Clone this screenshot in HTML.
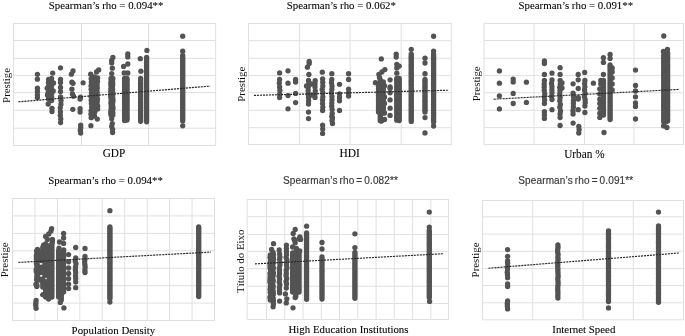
<!DOCTYPE html>
<html><head><meta charset="utf-8"><style>
html,body{margin:0;padding:0;background:#fff;}
svg{display:block;}
#w{will-change:transform;width:685px;height:336px;}
.ser{font-family:"Liberation Serif",serif;font-size:44px;fill:#000;stroke:#000;stroke-width:0.3px;}
.yl{font-family:"Liberation Serif",serif;font-size:44px;fill:#111;}
.san{font-family:"Liberation Sans",sans-serif;font-size:40px;fill:#3a3a3a;stroke:#3a3a3a;stroke-width:0.7px;letter-spacing:0.6px;word-spacing:-4px;}
</style></head><body><div id="w">
<svg width="685" height="336" viewBox="0 0 685 336" xmlns="http://www.w3.org/2000/svg">
<defs><filter id="bl" x="0" y="0" width="685" height="336" filterUnits="userSpaceOnUse"><feGaussianBlur stdDeviation="0.4"/></filter></defs>
<rect width="685" height="336" fill="#fff"/>
<g filter="url(#bl)">
<rect width="685" height="336" fill="#fff"/>
<g stroke="#e0e0e0" stroke-width="1" fill="none">
<line x1="81.5" y1="23.5" x2="81.5" y2="145.5"/>
<line x1="148.5" y1="23.5" x2="148.5" y2="145.5"/>
<line x1="13.5" y1="40.5" x2="215.6" y2="40.5"/>
<line x1="13.5" y1="58.4" x2="215.6" y2="58.4"/>
<line x1="13.5" y1="75.6" x2="215.6" y2="75.6"/>
<line x1="13.5" y1="92.5" x2="215.6" y2="92.5"/>
<line x1="13.5" y1="110.3" x2="215.6" y2="110.3"/>
<line x1="13.5" y1="128.2" x2="215.6" y2="128.2"/>
<rect x="13.5" y="23.5" width="202.1" height="122.0" fill="none"/>
<line x1="299.4" y1="23.5" x2="299.4" y2="144.5"/>
<line x1="350.1" y1="23.5" x2="350.1" y2="144.5"/>
<line x1="401.2" y1="23.5" x2="401.2" y2="144.5"/>
<line x1="248.6" y1="40.7" x2="451.2" y2="40.7"/>
<line x1="248.6" y1="58.3" x2="451.2" y2="58.3"/>
<line x1="248.6" y1="75.6" x2="451.2" y2="75.6"/>
<line x1="248.6" y1="92.6" x2="451.2" y2="92.6"/>
<line x1="248.6" y1="110.3" x2="451.2" y2="110.3"/>
<line x1="248.6" y1="127.7" x2="451.2" y2="127.7"/>
<rect x="248.6" y="23.5" width="202.6" height="121.0" fill="none"/>
<line x1="534.0" y1="23.5" x2="534.0" y2="144.5"/>
<line x1="584.6" y1="23.5" x2="584.6" y2="144.5"/>
<line x1="634.0" y1="23.5" x2="634.0" y2="144.5"/>
<line x1="484.0" y1="40.5" x2="683.5" y2="40.5"/>
<line x1="484.0" y1="58.3" x2="683.5" y2="58.3"/>
<line x1="484.0" y1="75.6" x2="683.5" y2="75.6"/>
<line x1="484.0" y1="92.7" x2="683.5" y2="92.7"/>
<line x1="484.0" y1="110.3" x2="683.5" y2="110.3"/>
<line x1="484.0" y1="127.6" x2="683.5" y2="127.6"/>
<rect x="484.0" y="23.5" width="199.5" height="121.0" fill="none"/>
<line x1="34.94" y1="198.5" x2="34.94" y2="320.5"/>
<line x1="57.39" y1="198.5" x2="57.39" y2="320.5"/>
<line x1="79.83" y1="198.5" x2="79.83" y2="320.5"/>
<line x1="102.28" y1="198.5" x2="102.28" y2="320.5"/>
<line x1="124.72" y1="198.5" x2="124.72" y2="320.5"/>
<line x1="147.17" y1="198.5" x2="147.17" y2="320.5"/>
<line x1="169.61" y1="198.5" x2="169.61" y2="320.5"/>
<line x1="192.06" y1="198.5" x2="192.06" y2="320.5"/>
<line x1="12.5" y1="215.93" x2="214.5" y2="215.93"/>
<line x1="12.5" y1="233.36" x2="214.5" y2="233.36"/>
<line x1="12.5" y1="250.79" x2="214.5" y2="250.79"/>
<line x1="12.5" y1="268.21" x2="214.5" y2="268.21"/>
<line x1="12.5" y1="285.64" x2="214.5" y2="285.64"/>
<line x1="12.5" y1="303.07" x2="214.5" y2="303.07"/>
<rect x="12.5" y="198.5" width="202.0" height="122.0" fill="none"/>
<line x1="266.5" y1="199.5" x2="266.5" y2="319.5"/>
<line x1="284.8" y1="199.5" x2="284.8" y2="319.5"/>
<line x1="303.0" y1="199.5" x2="303.0" y2="319.5"/>
<line x1="321.3" y1="199.5" x2="321.3" y2="319.5"/>
<line x1="339.5" y1="199.5" x2="339.5" y2="319.5"/>
<line x1="357.8" y1="199.5" x2="357.8" y2="319.5"/>
<line x1="376.1" y1="199.5" x2="376.1" y2="319.5"/>
<line x1="394.3" y1="199.5" x2="394.3" y2="319.5"/>
<line x1="412.6" y1="199.5" x2="412.6" y2="319.5"/>
<line x1="430.8" y1="199.5" x2="430.8" y2="319.5"/>
<line x1="247.2" y1="216.7" x2="448.5" y2="216.7"/>
<line x1="247.2" y1="234.5" x2="448.5" y2="234.5"/>
<line x1="247.2" y1="251.5" x2="448.5" y2="251.5"/>
<line x1="247.2" y1="268.6" x2="448.5" y2="268.6"/>
<line x1="247.2" y1="286.2" x2="448.5" y2="286.2"/>
<line x1="247.2" y1="303.5" x2="448.5" y2="303.5"/>
<rect x="247.2" y="199.5" width="201.3" height="120.0" fill="none"/>
<line x1="532.75" y1="200.5" x2="532.75" y2="319.8"/>
<line x1="583.0" y1="200.5" x2="583.0" y2="319.8"/>
<line x1="633.25" y1="200.5" x2="633.25" y2="319.8"/>
<line x1="482.5" y1="216.8" x2="683.5" y2="216.8"/>
<line x1="482.5" y1="234.1" x2="683.5" y2="234.1"/>
<line x1="482.5" y1="251.4" x2="683.5" y2="251.4"/>
<line x1="482.5" y1="268.5" x2="683.5" y2="268.5"/>
<line x1="482.5" y1="285.5" x2="683.5" y2="285.5"/>
<line x1="482.5" y1="302.8" x2="683.5" y2="302.8"/>
<rect x="482.5" y="200.5" width="201.0" height="119.30000000000001" fill="none"/>
</g>
<g fill="#535353">
<circle cx="37.4" cy="74.3" r="2.65"/>
<circle cx="37.4" cy="79.2" r="2.65"/>
<circle cx="37.4" cy="88.2" r="2.65"/>
<circle cx="37.4" cy="91.5" r="2.65"/>
<circle cx="37.4" cy="94.8" r="2.65"/>
<circle cx="37.4" cy="97.4" r="2.65"/>
<circle cx="52.7" cy="73.1" r="2.65"/>
<circle cx="48.60" cy="79.5" r="2.65"/>
<circle cx="48.44" cy="82.6" r="2.65"/>
<circle cx="48.74" cy="85.8" r="2.65"/>
<circle cx="48.63" cy="89.2" r="2.65"/>
<circle cx="48.20" cy="92.5" r="2.65"/>
<circle cx="48.18" cy="95.7" r="2.65"/>
<circle cx="48.60" cy="99.0" r="2.65"/>
<circle cx="51.60" cy="78.5" r="2.65"/>
<circle cx="51.21" cy="81.9" r="2.65"/>
<circle cx="51.53" cy="86.0" r="2.65"/>
<circle cx="51.26" cy="89.4" r="2.65"/>
<circle cx="51.71" cy="93.4" r="2.65"/>
<circle cx="51.67" cy="96.8" r="2.65"/>
<circle cx="51.60" cy="100.5" r="2.65"/>
<circle cx="47.2" cy="88.2" r="2.65"/>
<circle cx="53.5" cy="83" r="2.65"/>
<circle cx="47.5" cy="95" r="2.65"/>
<circle cx="53.2" cy="91" r="2.65"/>
<circle cx="48.2" cy="104" r="2.65"/>
<circle cx="52.00" cy="108.3" r="2.65"/>
<circle cx="52.00" cy="111.6" r="2.65"/>
<circle cx="60.5" cy="67.8" r="2.65"/>
<circle cx="60.5" cy="79.4" r="2.65"/>
<circle cx="60.5" cy="82.6" r="2.65"/>
<circle cx="60.5" cy="87.4" r="2.65"/>
<circle cx="60.5" cy="91.6" r="2.65"/>
<circle cx="60.60" cy="97.0" r="2.65"/>
<circle cx="61.03" cy="100.4" r="2.65"/>
<circle cx="60.92" cy="104.2" r="2.65"/>
<circle cx="60.28" cy="107.8" r="2.65"/>
<circle cx="60.43" cy="111.8" r="2.65"/>
<circle cx="60.31" cy="115.3" r="2.65"/>
<circle cx="60.73" cy="118.9" r="2.65"/>
<circle cx="60.60" cy="122.6" r="2.65"/>
<circle cx="73" cy="71" r="2.65"/>
<circle cx="71.4" cy="74.2" r="2.65"/>
<circle cx="71.9" cy="82.2" r="2.65"/>
<circle cx="73" cy="83.3" r="2.65"/>
<circle cx="71.9" cy="89.2" r="2.65"/>
<circle cx="72.4" cy="94" r="2.65"/>
<circle cx="73.5" cy="96.2" r="2.65"/>
<circle cx="72.8" cy="109.3" r="2.65"/>
<circle cx="83.1" cy="82.8" r="2.65"/>
<circle cx="80.5" cy="97.2" r="2.65"/>
<circle cx="80.1" cy="99.1" r="2.65"/>
<circle cx="80.10" cy="108.7" r="2.65"/>
<circle cx="80.10" cy="112.1" r="2.65"/>
<circle cx="80.70" cy="125.1" r="2.65"/>
<circle cx="80.74" cy="127.5" r="2.65"/>
<circle cx="80.30" cy="130.2" r="2.65"/>
<circle cx="80.70" cy="133.0" r="2.65"/>
<circle cx="98.7" cy="69.9" r="2.65"/>
<circle cx="96.5" cy="72" r="2.65"/>
<circle cx="90.7" cy="74.2" r="2.65"/>
<circle cx="91.20" cy="78.7" r="2.65"/>
<circle cx="91.36" cy="82.2" r="2.65"/>
<circle cx="91.03" cy="85.8" r="2.65"/>
<circle cx="91.16" cy="89.2" r="2.65"/>
<circle cx="91.46" cy="93.0" r="2.65"/>
<circle cx="90.97" cy="96.5" r="2.65"/>
<circle cx="91.22" cy="100.2" r="2.65"/>
<circle cx="91.41" cy="103.4" r="2.65"/>
<circle cx="91.63" cy="106.9" r="2.65"/>
<circle cx="91.13" cy="110.7" r="2.65"/>
<circle cx="90.89" cy="114.1" r="2.65"/>
<circle cx="91.20" cy="117.7" r="2.65"/>
<circle cx="94.40" cy="77.0" r="2.65"/>
<circle cx="93.99" cy="80.6" r="2.65"/>
<circle cx="94.64" cy="84.1" r="2.65"/>
<circle cx="94.74" cy="87.5" r="2.65"/>
<circle cx="94.58" cy="91.2" r="2.65"/>
<circle cx="94.47" cy="94.7" r="2.65"/>
<circle cx="94.71" cy="98.5" r="2.65"/>
<circle cx="94.38" cy="101.9" r="2.65"/>
<circle cx="94.00" cy="105.5" r="2.65"/>
<circle cx="94.53" cy="109.2" r="2.65"/>
<circle cx="94.69" cy="112.3" r="2.65"/>
<circle cx="94.40" cy="116.0" r="2.65"/>
<circle cx="97.60" cy="78.0" r="2.65"/>
<circle cx="97.50" cy="81.5" r="2.65"/>
<circle cx="97.17" cy="84.9" r="2.65"/>
<circle cx="97.30" cy="88.1" r="2.65"/>
<circle cx="97.20" cy="91.9" r="2.65"/>
<circle cx="97.27" cy="95.1" r="2.65"/>
<circle cx="97.50" cy="98.9" r="2.65"/>
<circle cx="97.22" cy="102.1" r="2.65"/>
<circle cx="97.64" cy="105.8" r="2.65"/>
<circle cx="97.60" cy="109.0" r="2.65"/>
<circle cx="97.3" cy="119.1" r="2.65"/>
<circle cx="90.9" cy="125.7" r="2.65"/>
<circle cx="112.9" cy="57.5" r="2.65"/>
<circle cx="111.7" cy="60.5" r="2.65"/>
<circle cx="111.7" cy="62.9" r="2.65"/>
<circle cx="112.3" cy="68.2" r="2.65"/>
<circle cx="111.7" cy="73.6" r="2.65"/>
<circle cx="111.00" cy="78.5" r="2.65"/>
<circle cx="111.19" cy="80.8" r="2.65"/>
<circle cx="110.87" cy="82.8" r="2.65"/>
<circle cx="110.92" cy="85.1" r="2.65"/>
<circle cx="111.27" cy="87.0" r="2.65"/>
<circle cx="110.81" cy="89.1" r="2.65"/>
<circle cx="110.84" cy="91.4" r="2.65"/>
<circle cx="111.05" cy="93.4" r="2.65"/>
<circle cx="110.70" cy="95.6" r="2.65"/>
<circle cx="110.92" cy="97.8" r="2.65"/>
<circle cx="111.27" cy="100.0" r="2.65"/>
<circle cx="111.01" cy="102.2" r="2.65"/>
<circle cx="111.11" cy="104.1" r="2.65"/>
<circle cx="111.24" cy="106.5" r="2.65"/>
<circle cx="111.22" cy="108.7" r="2.65"/>
<circle cx="110.94" cy="110.7" r="2.65"/>
<circle cx="110.76" cy="112.9" r="2.65"/>
<circle cx="111.00" cy="115.0" r="2.65"/>
<circle cx="112.80" cy="78.5" r="2.65"/>
<circle cx="112.54" cy="80.5" r="2.65"/>
<circle cx="112.63" cy="82.7" r="2.65"/>
<circle cx="112.70" cy="84.8" r="2.65"/>
<circle cx="112.50" cy="87.0" r="2.65"/>
<circle cx="112.56" cy="89.2" r="2.65"/>
<circle cx="112.52" cy="91.5" r="2.65"/>
<circle cx="112.87" cy="93.4" r="2.65"/>
<circle cx="112.65" cy="95.6" r="2.65"/>
<circle cx="112.72" cy="97.7" r="2.65"/>
<circle cx="113.01" cy="100.1" r="2.65"/>
<circle cx="112.78" cy="102.1" r="2.65"/>
<circle cx="112.55" cy="104.1" r="2.65"/>
<circle cx="112.71" cy="106.3" r="2.65"/>
<circle cx="113.00" cy="108.4" r="2.65"/>
<circle cx="112.51" cy="110.9" r="2.65"/>
<circle cx="112.82" cy="112.7" r="2.65"/>
<circle cx="112.80" cy="115.0" r="2.65"/>
<circle cx="111.7" cy="118.8" r="2.65"/>
<circle cx="111.7" cy="126.5" r="2.65"/>
<circle cx="112.3" cy="123.6" r="2.65"/>
<circle cx="112.6" cy="129.5" r="2.65"/>
<circle cx="112.6" cy="132.5" r="2.65"/>
<circle cx="127.8" cy="53.9" r="2.65"/>
<circle cx="127.8" cy="56.9" r="2.65"/>
<circle cx="127.8" cy="64" r="2.65"/>
<circle cx="123.6" cy="66.4" r="2.65"/>
<circle cx="124.2" cy="73" r="2.65"/>
<circle cx="127.8" cy="73" r="2.65"/>
<circle cx="124.60" cy="78.5" r="2.65"/>
<circle cx="124.60" cy="80.3" r="2.65"/>
<circle cx="124.60" cy="82.2" r="2.65"/>
<circle cx="124.60" cy="84.0" r="2.65"/>
<circle cx="124.60" cy="85.8" r="2.65"/>
<circle cx="124.60" cy="87.6" r="2.65"/>
<circle cx="124.60" cy="89.5" r="2.65"/>
<circle cx="124.60" cy="91.3" r="2.65"/>
<circle cx="124.60" cy="93.1" r="2.65"/>
<circle cx="124.60" cy="94.9" r="2.65"/>
<circle cx="124.60" cy="96.8" r="2.65"/>
<circle cx="124.60" cy="98.6" r="2.65"/>
<circle cx="124.60" cy="100.4" r="2.65"/>
<circle cx="124.60" cy="102.2" r="2.65"/>
<circle cx="124.60" cy="104.1" r="2.65"/>
<circle cx="124.60" cy="105.9" r="2.65"/>
<circle cx="124.60" cy="107.7" r="2.65"/>
<circle cx="124.60" cy="109.5" r="2.65"/>
<circle cx="124.60" cy="111.4" r="2.65"/>
<circle cx="124.60" cy="113.2" r="2.65"/>
<circle cx="124.60" cy="115.0" r="2.65"/>
<circle cx="124.60" cy="116.8" r="2.65"/>
<circle cx="124.60" cy="118.7" r="2.65"/>
<circle cx="124.60" cy="120.5" r="2.65"/>
<circle cx="127.00" cy="78.5" r="2.65"/>
<circle cx="127.00" cy="80.3" r="2.65"/>
<circle cx="127.00" cy="82.1" r="2.65"/>
<circle cx="127.00" cy="83.9" r="2.65"/>
<circle cx="127.00" cy="85.7" r="2.65"/>
<circle cx="127.00" cy="87.5" r="2.65"/>
<circle cx="127.00" cy="89.3" r="2.65"/>
<circle cx="127.00" cy="91.1" r="2.65"/>
<circle cx="127.00" cy="92.9" r="2.65"/>
<circle cx="127.00" cy="94.7" r="2.65"/>
<circle cx="127.00" cy="96.5" r="2.65"/>
<circle cx="127.00" cy="98.3" r="2.65"/>
<circle cx="127.00" cy="100.2" r="2.65"/>
<circle cx="127.00" cy="102.0" r="2.65"/>
<circle cx="127.00" cy="103.8" r="2.65"/>
<circle cx="127.00" cy="105.6" r="2.65"/>
<circle cx="127.00" cy="107.4" r="2.65"/>
<circle cx="127.00" cy="109.2" r="2.65"/>
<circle cx="127.00" cy="111.0" r="2.65"/>
<circle cx="127.00" cy="112.8" r="2.65"/>
<circle cx="127.00" cy="114.6" r="2.65"/>
<circle cx="127.00" cy="116.4" r="2.65"/>
<circle cx="127.00" cy="118.2" r="2.65"/>
<circle cx="127.00" cy="120.0" r="2.65"/>
<circle cx="140.3" cy="58.7" r="2.65"/>
<circle cx="140.9" cy="71.2" r="2.65"/>
<circle cx="140.60" cy="78.5" r="2.65"/>
<circle cx="140.60" cy="80.1" r="2.65"/>
<circle cx="140.60" cy="81.7" r="2.65"/>
<circle cx="140.60" cy="83.3" r="2.65"/>
<circle cx="140.60" cy="84.8" r="2.65"/>
<circle cx="140.60" cy="86.4" r="2.65"/>
<circle cx="140.60" cy="88.0" r="2.65"/>
<circle cx="140.60" cy="89.6" r="2.65"/>
<circle cx="140.60" cy="91.2" r="2.65"/>
<circle cx="140.60" cy="92.8" r="2.65"/>
<circle cx="140.60" cy="94.4" r="2.65"/>
<circle cx="140.60" cy="95.9" r="2.65"/>
<circle cx="140.60" cy="97.5" r="2.65"/>
<circle cx="140.60" cy="99.1" r="2.65"/>
<circle cx="140.60" cy="100.7" r="2.65"/>
<circle cx="140.60" cy="102.3" r="2.65"/>
<circle cx="140.60" cy="103.9" r="2.65"/>
<circle cx="140.60" cy="105.4" r="2.65"/>
<circle cx="140.60" cy="107.0" r="2.65"/>
<circle cx="140.60" cy="108.6" r="2.65"/>
<circle cx="140.60" cy="110.2" r="2.65"/>
<circle cx="140.60" cy="111.8" r="2.65"/>
<circle cx="140.60" cy="113.4" r="2.65"/>
<circle cx="140.60" cy="115.0" r="2.65"/>
<circle cx="140.60" cy="116.5" r="2.65"/>
<circle cx="140.60" cy="118.1" r="2.65"/>
<circle cx="140.60" cy="119.7" r="2.65"/>
<circle cx="140.60" cy="121.3" r="2.65"/>
<circle cx="146.9" cy="50.4" r="2.65"/>
<circle cx="146.60" cy="57.4" r="2.65"/>
<circle cx="146.60" cy="59.0" r="2.65"/>
<circle cx="146.60" cy="60.6" r="2.65"/>
<circle cx="146.60" cy="62.2" r="2.65"/>
<circle cx="146.60" cy="63.8" r="2.65"/>
<circle cx="146.60" cy="65.5" r="2.65"/>
<circle cx="146.60" cy="67.1" r="2.65"/>
<circle cx="146.60" cy="68.7" r="2.65"/>
<circle cx="146.60" cy="70.3" r="2.65"/>
<circle cx="146.60" cy="71.9" r="2.65"/>
<circle cx="146.60" cy="73.5" r="2.65"/>
<circle cx="146.60" cy="75.1" r="2.65"/>
<circle cx="146.60" cy="76.7" r="2.65"/>
<circle cx="146.60" cy="78.3" r="2.65"/>
<circle cx="146.60" cy="79.9" r="2.65"/>
<circle cx="146.60" cy="81.5" r="2.65"/>
<circle cx="146.60" cy="83.2" r="2.65"/>
<circle cx="146.60" cy="84.8" r="2.65"/>
<circle cx="146.60" cy="86.4" r="2.65"/>
<circle cx="146.60" cy="88.0" r="2.65"/>
<circle cx="146.60" cy="89.6" r="2.65"/>
<circle cx="146.60" cy="91.2" r="2.65"/>
<circle cx="146.60" cy="92.8" r="2.65"/>
<circle cx="146.60" cy="94.4" r="2.65"/>
<circle cx="146.60" cy="96.0" r="2.65"/>
<circle cx="146.60" cy="97.7" r="2.65"/>
<circle cx="146.60" cy="99.3" r="2.65"/>
<circle cx="146.60" cy="100.9" r="2.65"/>
<circle cx="146.60" cy="102.5" r="2.65"/>
<circle cx="146.60" cy="104.1" r="2.65"/>
<circle cx="146.60" cy="105.7" r="2.65"/>
<circle cx="146.60" cy="107.3" r="2.65"/>
<circle cx="146.60" cy="108.9" r="2.65"/>
<circle cx="146.60" cy="110.5" r="2.65"/>
<circle cx="146.60" cy="112.1" r="2.65"/>
<circle cx="146.60" cy="113.8" r="2.65"/>
<circle cx="146.60" cy="115.4" r="2.65"/>
<circle cx="146.60" cy="117.0" r="2.65"/>
<circle cx="146.60" cy="118.6" r="2.65"/>
<circle cx="146.60" cy="120.2" r="2.65"/>
<circle cx="146.60" cy="121.8" r="2.65"/>
<circle cx="182.7" cy="36.2" r="2.65"/>
<circle cx="182.7" cy="51.25" r="2.65"/>
<circle cx="182.70" cy="55.4" r="2.65"/>
<circle cx="182.70" cy="57.0" r="2.65"/>
<circle cx="182.70" cy="58.6" r="2.65"/>
<circle cx="182.70" cy="60.2" r="2.65"/>
<circle cx="182.70" cy="61.8" r="2.65"/>
<circle cx="182.70" cy="63.4" r="2.65"/>
<circle cx="182.70" cy="65.0" r="2.65"/>
<circle cx="182.70" cy="66.6" r="2.65"/>
<circle cx="182.70" cy="68.2" r="2.65"/>
<circle cx="182.70" cy="69.8" r="2.65"/>
<circle cx="182.70" cy="71.4" r="2.65"/>
<circle cx="182.70" cy="73.0" r="2.65"/>
<circle cx="182.70" cy="74.6" r="2.65"/>
<circle cx="182.70" cy="76.2" r="2.65"/>
<circle cx="182.70" cy="77.8" r="2.65"/>
<circle cx="182.70" cy="79.4" r="2.65"/>
<circle cx="182.70" cy="81.0" r="2.65"/>
<circle cx="182.70" cy="82.6" r="2.65"/>
<circle cx="182.70" cy="84.2" r="2.65"/>
<circle cx="182.70" cy="85.8" r="2.65"/>
<circle cx="182.70" cy="87.4" r="2.65"/>
<circle cx="182.70" cy="89.0" r="2.65"/>
<circle cx="182.70" cy="90.6" r="2.65"/>
<circle cx="182.70" cy="92.2" r="2.65"/>
<circle cx="182.70" cy="93.8" r="2.65"/>
<circle cx="182.70" cy="95.4" r="2.65"/>
<circle cx="182.70" cy="97.0" r="2.65"/>
<circle cx="182.70" cy="98.6" r="2.65"/>
<circle cx="182.70" cy="100.2" r="2.65"/>
<circle cx="182.70" cy="101.8" r="2.65"/>
<circle cx="182.70" cy="103.4" r="2.65"/>
<circle cx="182.70" cy="105.0" r="2.65"/>
<circle cx="182.70" cy="106.6" r="2.65"/>
<circle cx="182.70" cy="108.2" r="2.65"/>
<circle cx="182.70" cy="109.8" r="2.65"/>
<circle cx="182.70" cy="111.4" r="2.65"/>
<circle cx="182.70" cy="113.0" r="2.65"/>
<circle cx="182.70" cy="114.6" r="2.65"/>
<circle cx="182.70" cy="116.2" r="2.65"/>
<circle cx="182.70" cy="117.8" r="2.65"/>
<circle cx="182.70" cy="119.4" r="2.65"/>
<circle cx="182.70" cy="121.0" r="2.65"/>
<circle cx="182.7" cy="125.8" r="2.65"/>
<circle cx="279.6" cy="72.9" r="2.65"/>
<circle cx="279.60" cy="79.5" r="2.65"/>
<circle cx="279.28" cy="83.1" r="2.65"/>
<circle cx="279.60" cy="86.9" r="2.65"/>
<circle cx="279.87" cy="90.5" r="2.65"/>
<circle cx="279.68" cy="94.1" r="2.65"/>
<circle cx="279.60" cy="97.5" r="2.65"/>
<circle cx="288" cy="70.8" r="2.65"/>
<circle cx="288" cy="83.2" r="2.65"/>
<circle cx="288" cy="95.6" r="2.65"/>
<circle cx="288" cy="108.8" r="2.65"/>
<circle cx="295.60" cy="79.5" r="2.65"/>
<circle cx="295.60" cy="82.0" r="2.65"/>
<circle cx="295.6" cy="93.4" r="2.65"/>
<circle cx="295.6" cy="102.6" r="2.65"/>
<circle cx="309.2" cy="61.5" r="2.65"/>
<circle cx="309.2" cy="63.5" r="2.65"/>
<circle cx="307.4" cy="67.2" r="2.65"/>
<circle cx="308.9" cy="74.5" r="2.65"/>
<circle cx="308.50" cy="80.5" r="2.65"/>
<circle cx="308.66" cy="84.0" r="2.65"/>
<circle cx="308.26" cy="87.0" r="2.65"/>
<circle cx="308.17" cy="90.5" r="2.65"/>
<circle cx="308.14" cy="94.1" r="2.65"/>
<circle cx="308.55" cy="97.4" r="2.65"/>
<circle cx="308.61" cy="100.7" r="2.65"/>
<circle cx="308.50" cy="104.0" r="2.65"/>
<circle cx="306.5" cy="86" r="2.65"/>
<circle cx="311.3" cy="84" r="2.65"/>
<circle cx="311.3" cy="95" r="2.65"/>
<circle cx="308.5" cy="112.1" r="2.65"/>
<circle cx="308.5" cy="118.6" r="2.65"/>
<circle cx="315.2" cy="80.7" r="2.65"/>
<circle cx="315.00" cy="84.0" r="2.65"/>
<circle cx="314.99" cy="87.1" r="2.65"/>
<circle cx="315.27" cy="90.8" r="2.65"/>
<circle cx="315.00" cy="94.1" r="2.65"/>
<circle cx="315.00" cy="97.4" r="2.65"/>
<circle cx="322.3" cy="72.2" r="2.65"/>
<circle cx="322.60" cy="79.0" r="2.65"/>
<circle cx="322.74" cy="82.3" r="2.65"/>
<circle cx="322.81" cy="85.9" r="2.65"/>
<circle cx="322.22" cy="89.4" r="2.65"/>
<circle cx="322.81" cy="92.8" r="2.65"/>
<circle cx="322.82" cy="96.8" r="2.65"/>
<circle cx="322.59" cy="99.9" r="2.65"/>
<circle cx="322.58" cy="103.6" r="2.65"/>
<circle cx="322.84" cy="107.1" r="2.65"/>
<circle cx="322.60" cy="110.5" r="2.65"/>
<circle cx="322.60" cy="125.2" r="2.65"/>
<circle cx="322.73" cy="129.1" r="2.65"/>
<circle cx="322.60" cy="133.4" r="2.65"/>
<circle cx="331.8" cy="73.7" r="2.65"/>
<circle cx="331.80" cy="79.5" r="2.65"/>
<circle cx="331.48" cy="82.7" r="2.65"/>
<circle cx="332.02" cy="86.1" r="2.65"/>
<circle cx="331.86" cy="89.3" r="2.65"/>
<circle cx="331.40" cy="92.8" r="2.65"/>
<circle cx="331.95" cy="96.4" r="2.65"/>
<circle cx="331.96" cy="99.6" r="2.65"/>
<circle cx="331.81" cy="103.0" r="2.65"/>
<circle cx="331.77" cy="106.2" r="2.65"/>
<circle cx="332.15" cy="109.6" r="2.65"/>
<circle cx="332.23" cy="113.4" r="2.65"/>
<circle cx="331.80" cy="116.5" r="2.65"/>
<circle cx="332.50" cy="118.0" r="2.65"/>
<circle cx="332.07" cy="120.7" r="2.65"/>
<circle cx="332.50" cy="123.5" r="2.65"/>
<circle cx="339.5" cy="84.3" r="2.65"/>
<circle cx="339.5" cy="94" r="2.65"/>
<circle cx="339.5" cy="97.5" r="2.65"/>
<circle cx="339.5" cy="100.8" r="2.65"/>
<circle cx="339.5" cy="110.5" r="2.65"/>
<circle cx="348.6" cy="73.7" r="2.65"/>
<circle cx="348.6" cy="79.5" r="2.65"/>
<circle cx="348.6" cy="89.2" r="2.65"/>
<circle cx="348.6" cy="93" r="2.65"/>
<circle cx="348.6" cy="96" r="2.65"/>
<circle cx="381.3" cy="58.9" r="2.65"/>
<circle cx="384.9" cy="69.6" r="2.65"/>
<circle cx="381.9" cy="72" r="2.65"/>
<circle cx="378.9" cy="74.4" r="2.65"/>
<circle cx="379.5" cy="77.4" r="2.65"/>
<circle cx="375.4" cy="82.7" r="2.65"/>
<circle cx="380.30" cy="80.0" r="2.65"/>
<circle cx="380.30" cy="81.8" r="2.65"/>
<circle cx="380.30" cy="83.5" r="2.65"/>
<circle cx="380.30" cy="85.3" r="2.65"/>
<circle cx="380.30" cy="87.1" r="2.65"/>
<circle cx="380.30" cy="88.9" r="2.65"/>
<circle cx="380.30" cy="90.6" r="2.65"/>
<circle cx="380.30" cy="92.4" r="2.65"/>
<circle cx="380.30" cy="94.2" r="2.65"/>
<circle cx="380.30" cy="96.0" r="2.65"/>
<circle cx="380.30" cy="97.7" r="2.65"/>
<circle cx="380.30" cy="99.5" r="2.65"/>
<circle cx="380.30" cy="101.3" r="2.65"/>
<circle cx="380.30" cy="103.1" r="2.65"/>
<circle cx="380.30" cy="104.8" r="2.65"/>
<circle cx="380.30" cy="106.6" r="2.65"/>
<circle cx="380.30" cy="108.4" r="2.65"/>
<circle cx="380.30" cy="110.2" r="2.65"/>
<circle cx="380.30" cy="111.9" r="2.65"/>
<circle cx="380.30" cy="113.7" r="2.65"/>
<circle cx="380.30" cy="115.5" r="2.65"/>
<circle cx="380.30" cy="117.3" r="2.65"/>
<circle cx="380.30" cy="119.0" r="2.65"/>
<circle cx="380.30" cy="120.8" r="2.65"/>
<circle cx="383.30" cy="82.0" r="2.65"/>
<circle cx="383.30" cy="84.2" r="2.65"/>
<circle cx="383.30" cy="86.4" r="2.65"/>
<circle cx="383.30" cy="88.6" r="2.65"/>
<circle cx="383.30" cy="90.9" r="2.65"/>
<circle cx="383.30" cy="93.1" r="2.65"/>
<circle cx="383.30" cy="95.3" r="2.65"/>
<circle cx="383.30" cy="97.5" r="2.65"/>
<circle cx="383.30" cy="99.7" r="2.65"/>
<circle cx="383.30" cy="101.9" r="2.65"/>
<circle cx="383.30" cy="104.1" r="2.65"/>
<circle cx="383.30" cy="106.4" r="2.65"/>
<circle cx="383.30" cy="108.6" r="2.65"/>
<circle cx="383.30" cy="110.8" r="2.65"/>
<circle cx="383.30" cy="113.0" r="2.65"/>
<circle cx="378.50" cy="84.0" r="2.65"/>
<circle cx="378.50" cy="86.3" r="2.65"/>
<circle cx="378.50" cy="88.7" r="2.65"/>
<circle cx="378.50" cy="91.0" r="2.65"/>
<circle cx="378.50" cy="93.3" r="2.65"/>
<circle cx="378.50" cy="95.7" r="2.65"/>
<circle cx="378.50" cy="98.0" r="2.65"/>
<circle cx="378.50" cy="100.3" r="2.65"/>
<circle cx="378.50" cy="102.7" r="2.65"/>
<circle cx="378.50" cy="105.0" r="2.65"/>
<circle cx="378.50" cy="107.3" r="2.65"/>
<circle cx="378.50" cy="109.7" r="2.65"/>
<circle cx="378.50" cy="112.0" r="2.65"/>
<circle cx="384.5" cy="85.7" r="2.65"/>
<circle cx="384.5" cy="97" r="2.65"/>
<circle cx="384.5" cy="103.5" r="2.65"/>
<circle cx="384.5" cy="113" r="2.65"/>
<circle cx="384.5" cy="119.5" r="2.65"/>
<circle cx="381.5" cy="121" r="2.65"/>
<circle cx="390.1" cy="79.8" r="2.65"/>
<circle cx="390.1" cy="86.9" r="2.65"/>
<circle cx="390.1" cy="88.6" r="2.65"/>
<circle cx="390.1" cy="92.8" r="2.65"/>
<circle cx="390.1" cy="99.9" r="2.65"/>
<circle cx="390.1" cy="108.2" r="2.65"/>
<circle cx="390.1" cy="115.4" r="2.65"/>
<circle cx="396.2" cy="54.2" r="2.65"/>
<circle cx="396.2" cy="57.1" r="2.65"/>
<circle cx="396.8" cy="64.3" r="2.65"/>
<circle cx="396.8" cy="67.9" r="2.65"/>
<circle cx="396.8" cy="73.2" r="2.65"/>
<circle cx="399.2" cy="66.1" r="2.65"/>
<circle cx="396.80" cy="78.3" r="2.65"/>
<circle cx="396.80" cy="80.1" r="2.65"/>
<circle cx="396.80" cy="81.9" r="2.65"/>
<circle cx="396.80" cy="83.8" r="2.65"/>
<circle cx="396.80" cy="85.6" r="2.65"/>
<circle cx="396.80" cy="87.4" r="2.65"/>
<circle cx="396.80" cy="89.2" r="2.65"/>
<circle cx="396.80" cy="91.1" r="2.65"/>
<circle cx="396.80" cy="92.9" r="2.65"/>
<circle cx="396.80" cy="94.7" r="2.65"/>
<circle cx="396.80" cy="96.5" r="2.65"/>
<circle cx="396.80" cy="98.3" r="2.65"/>
<circle cx="396.80" cy="100.2" r="2.65"/>
<circle cx="396.80" cy="102.0" r="2.65"/>
<circle cx="396.80" cy="103.8" r="2.65"/>
<circle cx="396.80" cy="105.6" r="2.65"/>
<circle cx="396.80" cy="107.4" r="2.65"/>
<circle cx="396.80" cy="109.3" r="2.65"/>
<circle cx="396.80" cy="111.1" r="2.65"/>
<circle cx="396.80" cy="112.9" r="2.65"/>
<circle cx="396.80" cy="114.7" r="2.65"/>
<circle cx="396.80" cy="116.6" r="2.65"/>
<circle cx="396.80" cy="118.4" r="2.65"/>
<circle cx="396.80" cy="120.2" r="2.65"/>
<circle cx="399.20" cy="78.3" r="2.65"/>
<circle cx="399.20" cy="80.1" r="2.65"/>
<circle cx="399.20" cy="82.0" r="2.65"/>
<circle cx="399.20" cy="83.8" r="2.65"/>
<circle cx="399.20" cy="85.6" r="2.65"/>
<circle cx="399.20" cy="87.5" r="2.65"/>
<circle cx="399.20" cy="89.3" r="2.65"/>
<circle cx="399.20" cy="91.1" r="2.65"/>
<circle cx="399.20" cy="93.0" r="2.65"/>
<circle cx="399.20" cy="94.8" r="2.65"/>
<circle cx="399.20" cy="96.6" r="2.65"/>
<circle cx="399.20" cy="98.5" r="2.65"/>
<circle cx="399.20" cy="100.3" r="2.65"/>
<circle cx="399.20" cy="102.2" r="2.65"/>
<circle cx="399.20" cy="104.0" r="2.65"/>
<circle cx="399.20" cy="105.8" r="2.65"/>
<circle cx="399.20" cy="107.7" r="2.65"/>
<circle cx="399.20" cy="109.5" r="2.65"/>
<circle cx="399.20" cy="111.3" r="2.65"/>
<circle cx="399.20" cy="113.2" r="2.65"/>
<circle cx="399.20" cy="115.0" r="2.65"/>
<circle cx="399.20" cy="116.8" r="2.65"/>
<circle cx="399.20" cy="118.7" r="2.65"/>
<circle cx="399.20" cy="120.5" r="2.65"/>
<circle cx="411.25" cy="49.3" r="2.65"/>
<circle cx="411.25" cy="54.1" r="2.65"/>
<circle cx="411.25" cy="55.7" r="2.65"/>
<circle cx="411.25" cy="57.3" r="2.65"/>
<circle cx="411.25" cy="58.9" r="2.65"/>
<circle cx="411.25" cy="60.5" r="2.65"/>
<circle cx="411.25" cy="62.1" r="2.65"/>
<circle cx="411.25" cy="63.7" r="2.65"/>
<circle cx="411.25" cy="65.3" r="2.65"/>
<circle cx="411.25" cy="66.9" r="2.65"/>
<circle cx="411.25" cy="68.5" r="2.65"/>
<circle cx="411.25" cy="70.1" r="2.65"/>
<circle cx="411.25" cy="71.7" r="2.65"/>
<circle cx="411.25" cy="73.3" r="2.65"/>
<circle cx="411.25" cy="74.9" r="2.65"/>
<circle cx="411.25" cy="76.5" r="2.65"/>
<circle cx="411.25" cy="78.1" r="2.65"/>
<circle cx="411.25" cy="79.7" r="2.65"/>
<circle cx="411.25" cy="81.3" r="2.65"/>
<circle cx="411.25" cy="82.9" r="2.65"/>
<circle cx="411.25" cy="84.5" r="2.65"/>
<circle cx="411.25" cy="86.1" r="2.65"/>
<circle cx="411.25" cy="87.8" r="2.65"/>
<circle cx="411.25" cy="89.4" r="2.65"/>
<circle cx="411.25" cy="91.0" r="2.65"/>
<circle cx="411.25" cy="92.6" r="2.65"/>
<circle cx="411.25" cy="94.2" r="2.65"/>
<circle cx="411.25" cy="95.8" r="2.65"/>
<circle cx="411.25" cy="97.4" r="2.65"/>
<circle cx="411.25" cy="99.0" r="2.65"/>
<circle cx="411.25" cy="100.6" r="2.65"/>
<circle cx="411.25" cy="102.2" r="2.65"/>
<circle cx="411.25" cy="103.8" r="2.65"/>
<circle cx="411.25" cy="105.4" r="2.65"/>
<circle cx="411.25" cy="107.0" r="2.65"/>
<circle cx="411.25" cy="108.6" r="2.65"/>
<circle cx="411.25" cy="110.2" r="2.65"/>
<circle cx="411.25" cy="111.8" r="2.65"/>
<circle cx="411.25" cy="113.4" r="2.65"/>
<circle cx="411.25" cy="115.0" r="2.65"/>
<circle cx="411.25" cy="116.6" r="2.65"/>
<circle cx="411.25" cy="118.2" r="2.65"/>
<circle cx="411.25" cy="119.8" r="2.65"/>
<circle cx="411.25" cy="121.4" r="2.65"/>
<circle cx="425" cy="58.2" r="2.65"/>
<circle cx="425" cy="63" r="2.65"/>
<circle cx="425" cy="73.75" r="2.65"/>
<circle cx="425.00" cy="79.5" r="2.65"/>
<circle cx="425.00" cy="81.3" r="2.65"/>
<circle cx="425.00" cy="83.1" r="2.65"/>
<circle cx="425.00" cy="84.9" r="2.65"/>
<circle cx="425.00" cy="86.7" r="2.65"/>
<circle cx="425.00" cy="88.5" r="2.65"/>
<circle cx="425.00" cy="90.3" r="2.65"/>
<circle cx="425.00" cy="92.1" r="2.65"/>
<circle cx="425.00" cy="93.9" r="2.65"/>
<circle cx="425.00" cy="95.8" r="2.65"/>
<circle cx="425.00" cy="97.6" r="2.65"/>
<circle cx="425.00" cy="99.4" r="2.65"/>
<circle cx="425.00" cy="101.2" r="2.65"/>
<circle cx="425.00" cy="103.0" r="2.65"/>
<circle cx="425.00" cy="104.8" r="2.65"/>
<circle cx="425.00" cy="106.6" r="2.65"/>
<circle cx="425.00" cy="108.4" r="2.65"/>
<circle cx="425.00" cy="110.2" r="2.65"/>
<circle cx="425.00" cy="112.0" r="2.65"/>
<circle cx="425" cy="117.6" r="2.65"/>
<circle cx="425" cy="132.9" r="2.65"/>
<circle cx="433.6" cy="36.25" r="2.65"/>
<circle cx="433.6" cy="51.1" r="2.65"/>
<circle cx="433.60" cy="54.1" r="2.65"/>
<circle cx="433.60" cy="55.7" r="2.65"/>
<circle cx="433.60" cy="57.3" r="2.65"/>
<circle cx="433.60" cy="59.0" r="2.65"/>
<circle cx="433.60" cy="60.6" r="2.65"/>
<circle cx="433.60" cy="62.2" r="2.65"/>
<circle cx="433.60" cy="63.8" r="2.65"/>
<circle cx="433.60" cy="65.4" r="2.65"/>
<circle cx="433.60" cy="67.0" r="2.65"/>
<circle cx="433.60" cy="68.7" r="2.65"/>
<circle cx="433.60" cy="70.3" r="2.65"/>
<circle cx="433.60" cy="71.9" r="2.65"/>
<circle cx="433.60" cy="73.5" r="2.65"/>
<circle cx="433.60" cy="75.1" r="2.65"/>
<circle cx="433.60" cy="76.7" r="2.65"/>
<circle cx="433.60" cy="78.4" r="2.65"/>
<circle cx="433.60" cy="80.0" r="2.65"/>
<circle cx="433.60" cy="81.6" r="2.65"/>
<circle cx="433.60" cy="83.2" r="2.65"/>
<circle cx="433.60" cy="84.8" r="2.65"/>
<circle cx="433.60" cy="86.4" r="2.65"/>
<circle cx="433.60" cy="88.1" r="2.65"/>
<circle cx="433.60" cy="89.7" r="2.65"/>
<circle cx="433.60" cy="91.3" r="2.65"/>
<circle cx="433.60" cy="92.9" r="2.65"/>
<circle cx="433.60" cy="94.5" r="2.65"/>
<circle cx="433.60" cy="96.1" r="2.65"/>
<circle cx="433.60" cy="97.8" r="2.65"/>
<circle cx="433.60" cy="99.4" r="2.65"/>
<circle cx="433.60" cy="101.0" r="2.65"/>
<circle cx="433.60" cy="102.6" r="2.65"/>
<circle cx="433.60" cy="104.2" r="2.65"/>
<circle cx="433.60" cy="105.8" r="2.65"/>
<circle cx="433.60" cy="107.5" r="2.65"/>
<circle cx="433.60" cy="109.1" r="2.65"/>
<circle cx="433.60" cy="110.7" r="2.65"/>
<circle cx="433.60" cy="112.3" r="2.65"/>
<circle cx="433.60" cy="113.9" r="2.65"/>
<circle cx="433.60" cy="115.5" r="2.65"/>
<circle cx="433.60" cy="117.2" r="2.65"/>
<circle cx="433.60" cy="118.8" r="2.65"/>
<circle cx="433.60" cy="120.4" r="2.65"/>
<circle cx="433.60" cy="122.0" r="2.65"/>
<circle cx="433.6" cy="126" r="2.65"/>
<circle cx="499.4" cy="70.9" r="2.65"/>
<circle cx="499.4" cy="83.2" r="2.65"/>
<circle cx="499.4" cy="95.8" r="2.65"/>
<circle cx="499.4" cy="108.9" r="2.65"/>
<circle cx="513.20" cy="79.1" r="2.65"/>
<circle cx="513.20" cy="81.9" r="2.65"/>
<circle cx="513.2" cy="93.4" r="2.65"/>
<circle cx="513.2" cy="103.5" r="2.65"/>
<circle cx="526.4" cy="82.2" r="2.65"/>
<circle cx="526.4" cy="102.4" r="2.65"/>
<circle cx="544.4" cy="61" r="2.65"/>
<circle cx="544.4" cy="63.5" r="2.65"/>
<circle cx="544.4" cy="74.4" r="2.65"/>
<circle cx="544.40" cy="80.5" r="2.65"/>
<circle cx="544.23" cy="84.0" r="2.65"/>
<circle cx="544.23" cy="87.1" r="2.65"/>
<circle cx="544.27" cy="90.3" r="2.65"/>
<circle cx="544.73" cy="93.9" r="2.65"/>
<circle cx="544.28" cy="96.8" r="2.65"/>
<circle cx="544.61" cy="100.1" r="2.65"/>
<circle cx="544.40" cy="103.5" r="2.65"/>
<circle cx="544.4" cy="111.7" r="2.65"/>
<circle cx="544.4" cy="115" r="2.65"/>
<circle cx="544.4" cy="118.4" r="2.65"/>
<circle cx="552" cy="73.1" r="2.65"/>
<circle cx="552.00" cy="80.0" r="2.65"/>
<circle cx="551.56" cy="83.5" r="2.65"/>
<circle cx="551.93" cy="86.7" r="2.65"/>
<circle cx="551.92" cy="90.0" r="2.65"/>
<circle cx="551.96" cy="92.8" r="2.65"/>
<circle cx="551.56" cy="96.3" r="2.65"/>
<circle cx="552.00" cy="99.5" r="2.65"/>
<circle cx="552" cy="109.7" r="2.65"/>
<circle cx="560.1" cy="67.7" r="2.65"/>
<circle cx="560.1" cy="74.4" r="2.65"/>
<circle cx="560.10" cy="80.5" r="2.65"/>
<circle cx="560.23" cy="84.1" r="2.65"/>
<circle cx="559.73" cy="87.3" r="2.65"/>
<circle cx="559.98" cy="90.6" r="2.65"/>
<circle cx="559.78" cy="93.8" r="2.65"/>
<circle cx="560.12" cy="97.5" r="2.65"/>
<circle cx="559.75" cy="100.7" r="2.65"/>
<circle cx="560.37" cy="104.3" r="2.65"/>
<circle cx="559.83" cy="107.2" r="2.65"/>
<circle cx="560.50" cy="111.0" r="2.65"/>
<circle cx="560.08" cy="113.9" r="2.65"/>
<circle cx="560.10" cy="117.5" r="2.65"/>
<circle cx="562" cy="83" r="2.65"/>
<circle cx="562" cy="88" r="2.65"/>
<circle cx="560.1" cy="125.5" r="2.65"/>
<circle cx="573.1" cy="83.8" r="2.65"/>
<circle cx="573.10" cy="93.2" r="2.65"/>
<circle cx="573.48" cy="96.6" r="2.65"/>
<circle cx="573.46" cy="100.2" r="2.65"/>
<circle cx="573.39" cy="103.4" r="2.65"/>
<circle cx="573.36" cy="106.9" r="2.65"/>
<circle cx="573.01" cy="110.7" r="2.65"/>
<circle cx="573.10" cy="114.0" r="2.65"/>
<circle cx="573.1" cy="123.1" r="2.65"/>
<circle cx="578.2" cy="74.4" r="2.65"/>
<circle cx="578.2" cy="79.8" r="2.65"/>
<circle cx="578.2" cy="88.5" r="2.65"/>
<circle cx="578.2" cy="97.7" r="2.65"/>
<circle cx="578.2" cy="99" r="2.65"/>
<circle cx="578.2" cy="109.7" r="2.65"/>
<circle cx="578.80" cy="126.5" r="2.65"/>
<circle cx="579.10" cy="129.6" r="2.65"/>
<circle cx="578.80" cy="133.0" r="2.65"/>
<circle cx="584.7" cy="72.4" r="2.65"/>
<circle cx="584.90" cy="80.5" r="2.65"/>
<circle cx="584.65" cy="83.6" r="2.65"/>
<circle cx="584.92" cy="86.8" r="2.65"/>
<circle cx="584.56" cy="89.9" r="2.65"/>
<circle cx="585.10" cy="93.5" r="2.65"/>
<circle cx="584.49" cy="96.5" r="2.65"/>
<circle cx="585.13" cy="99.4" r="2.65"/>
<circle cx="585.20" cy="102.6" r="2.65"/>
<circle cx="584.90" cy="106.0" r="2.65"/>
<circle cx="584.9" cy="112.5" r="2.65"/>
<circle cx="593.4" cy="83.2" r="2.65"/>
<circle cx="603.4" cy="57.7" r="2.65"/>
<circle cx="603.4" cy="62.4" r="2.65"/>
<circle cx="603.4" cy="74.5" r="2.65"/>
<circle cx="600.8" cy="80.5" r="2.65"/>
<circle cx="603.50" cy="80.5" r="2.65"/>
<circle cx="603.50" cy="82.3" r="2.65"/>
<circle cx="603.50" cy="84.1" r="2.65"/>
<circle cx="603.50" cy="85.9" r="2.65"/>
<circle cx="603.50" cy="87.8" r="2.65"/>
<circle cx="603.50" cy="89.6" r="2.65"/>
<circle cx="603.50" cy="91.4" r="2.65"/>
<circle cx="603.50" cy="93.2" r="2.65"/>
<circle cx="603.50" cy="95.0" r="2.65"/>
<circle cx="603.50" cy="96.8" r="2.65"/>
<circle cx="603.50" cy="98.7" r="2.65"/>
<circle cx="603.50" cy="100.5" r="2.65"/>
<circle cx="603.50" cy="102.3" r="2.65"/>
<circle cx="603.50" cy="104.1" r="2.65"/>
<circle cx="603.50" cy="105.9" r="2.65"/>
<circle cx="603.50" cy="107.7" r="2.65"/>
<circle cx="603.50" cy="109.6" r="2.65"/>
<circle cx="603.50" cy="111.4" r="2.65"/>
<circle cx="603.50" cy="113.2" r="2.65"/>
<circle cx="603.50" cy="115.0" r="2.65"/>
<circle cx="600.8" cy="84" r="2.65"/>
<circle cx="599.8" cy="89" r="2.65"/>
<circle cx="599.8" cy="94" r="2.65"/>
<circle cx="599.8" cy="99.2" r="2.65"/>
<circle cx="599.8" cy="103.4" r="2.65"/>
<circle cx="599.8" cy="108.3" r="2.65"/>
<circle cx="599.8" cy="113.2" r="2.65"/>
<circle cx="599.8" cy="117.4" r="2.65"/>
<circle cx="604" cy="132.5" r="2.65"/>
<circle cx="610.1" cy="54.4" r="2.65"/>
<circle cx="610.1" cy="58.4" r="2.65"/>
<circle cx="610.10" cy="65.0" r="2.65"/>
<circle cx="610.10" cy="67.0" r="2.65"/>
<circle cx="610.10" cy="69.0" r="2.65"/>
<circle cx="610.10" cy="71.1" r="2.65"/>
<circle cx="610.10" cy="73.1" r="2.65"/>
<circle cx="610.10" cy="75.1" r="2.65"/>
<circle cx="610.10" cy="77.1" r="2.65"/>
<circle cx="610.10" cy="79.1" r="2.65"/>
<circle cx="610.10" cy="81.1" r="2.65"/>
<circle cx="610.10" cy="83.2" r="2.65"/>
<circle cx="610.10" cy="85.2" r="2.65"/>
<circle cx="610.10" cy="87.2" r="2.65"/>
<circle cx="610.10" cy="89.2" r="2.65"/>
<circle cx="610.10" cy="91.2" r="2.65"/>
<circle cx="610.10" cy="93.3" r="2.65"/>
<circle cx="610.10" cy="95.3" r="2.65"/>
<circle cx="610.10" cy="97.3" r="2.65"/>
<circle cx="610.10" cy="99.3" r="2.65"/>
<circle cx="610.10" cy="101.3" r="2.65"/>
<circle cx="610.10" cy="103.4" r="2.65"/>
<circle cx="610.10" cy="105.4" r="2.65"/>
<circle cx="610.10" cy="107.4" r="2.65"/>
<circle cx="610.10" cy="109.4" r="2.65"/>
<circle cx="610.10" cy="111.4" r="2.65"/>
<circle cx="610.10" cy="113.4" r="2.65"/>
<circle cx="610.10" cy="115.5" r="2.65"/>
<circle cx="610.10" cy="117.5" r="2.65"/>
<circle cx="610.10" cy="119.5" r="2.65"/>
<circle cx="612.2" cy="68" r="2.65"/>
<circle cx="612.2" cy="72" r="2.65"/>
<circle cx="612.2" cy="78" r="2.65"/>
<circle cx="612.2" cy="84" r="2.65"/>
<circle cx="612.2" cy="90" r="2.65"/>
<circle cx="635.5" cy="70.1" r="2.65"/>
<circle cx="635.5" cy="85.5" r="2.65"/>
<circle cx="635.5" cy="91" r="2.65"/>
<circle cx="635.5" cy="96.8" r="2.65"/>
<circle cx="635.5" cy="102.9" r="2.65"/>
<circle cx="635.5" cy="106.4" r="2.65"/>
<circle cx="635.5" cy="119" r="2.65"/>
<circle cx="663.8" cy="36" r="2.65"/>
<circle cx="667.4" cy="49.4" r="2.65"/>
<circle cx="663.4" cy="51.4" r="2.65"/>
<circle cx="663.80" cy="55.0" r="2.65"/>
<circle cx="663.80" cy="56.6" r="2.65"/>
<circle cx="663.80" cy="58.2" r="2.65"/>
<circle cx="663.80" cy="59.8" r="2.65"/>
<circle cx="663.80" cy="61.4" r="2.65"/>
<circle cx="663.80" cy="63.0" r="2.65"/>
<circle cx="663.80" cy="64.6" r="2.65"/>
<circle cx="663.80" cy="66.2" r="2.65"/>
<circle cx="663.80" cy="67.8" r="2.65"/>
<circle cx="663.80" cy="69.4" r="2.65"/>
<circle cx="663.80" cy="71.0" r="2.65"/>
<circle cx="663.80" cy="72.5" r="2.65"/>
<circle cx="663.80" cy="74.1" r="2.65"/>
<circle cx="663.80" cy="75.7" r="2.65"/>
<circle cx="663.80" cy="77.3" r="2.65"/>
<circle cx="663.80" cy="78.9" r="2.65"/>
<circle cx="663.80" cy="80.5" r="2.65"/>
<circle cx="663.80" cy="82.1" r="2.65"/>
<circle cx="663.80" cy="83.7" r="2.65"/>
<circle cx="663.80" cy="85.3" r="2.65"/>
<circle cx="663.80" cy="86.9" r="2.65"/>
<circle cx="663.80" cy="88.5" r="2.65"/>
<circle cx="663.80" cy="90.1" r="2.65"/>
<circle cx="663.80" cy="91.7" r="2.65"/>
<circle cx="663.80" cy="93.3" r="2.65"/>
<circle cx="663.80" cy="94.9" r="2.65"/>
<circle cx="663.80" cy="96.5" r="2.65"/>
<circle cx="663.80" cy="98.1" r="2.65"/>
<circle cx="663.80" cy="99.7" r="2.65"/>
<circle cx="663.80" cy="101.3" r="2.65"/>
<circle cx="663.80" cy="102.9" r="2.65"/>
<circle cx="663.80" cy="104.5" r="2.65"/>
<circle cx="663.80" cy="106.0" r="2.65"/>
<circle cx="663.80" cy="107.6" r="2.65"/>
<circle cx="663.80" cy="109.2" r="2.65"/>
<circle cx="663.80" cy="110.8" r="2.65"/>
<circle cx="663.80" cy="112.4" r="2.65"/>
<circle cx="663.80" cy="114.0" r="2.65"/>
<circle cx="663.80" cy="115.6" r="2.65"/>
<circle cx="663.80" cy="117.2" r="2.65"/>
<circle cx="663.80" cy="118.8" r="2.65"/>
<circle cx="663.80" cy="120.4" r="2.65"/>
<circle cx="663.80" cy="122.0" r="2.65"/>
<circle cx="667.60" cy="53.0" r="2.65"/>
<circle cx="667.60" cy="54.6" r="2.65"/>
<circle cx="667.60" cy="56.2" r="2.65"/>
<circle cx="667.60" cy="57.9" r="2.65"/>
<circle cx="667.60" cy="59.5" r="2.65"/>
<circle cx="667.60" cy="61.1" r="2.65"/>
<circle cx="667.60" cy="62.7" r="2.65"/>
<circle cx="667.60" cy="64.3" r="2.65"/>
<circle cx="667.60" cy="66.0" r="2.65"/>
<circle cx="667.60" cy="67.6" r="2.65"/>
<circle cx="667.60" cy="69.2" r="2.65"/>
<circle cx="667.60" cy="70.8" r="2.65"/>
<circle cx="667.60" cy="72.4" r="2.65"/>
<circle cx="667.60" cy="74.0" r="2.65"/>
<circle cx="667.60" cy="75.7" r="2.65"/>
<circle cx="667.60" cy="77.3" r="2.65"/>
<circle cx="667.60" cy="78.9" r="2.65"/>
<circle cx="667.60" cy="80.5" r="2.65"/>
<circle cx="667.60" cy="82.1" r="2.65"/>
<circle cx="667.60" cy="83.8" r="2.65"/>
<circle cx="667.60" cy="85.4" r="2.65"/>
<circle cx="667.60" cy="87.0" r="2.65"/>
<circle cx="667.60" cy="88.6" r="2.65"/>
<circle cx="667.60" cy="90.2" r="2.65"/>
<circle cx="667.60" cy="91.9" r="2.65"/>
<circle cx="667.60" cy="93.5" r="2.65"/>
<circle cx="667.60" cy="95.1" r="2.65"/>
<circle cx="667.60" cy="96.7" r="2.65"/>
<circle cx="667.60" cy="98.3" r="2.65"/>
<circle cx="667.60" cy="100.0" r="2.65"/>
<circle cx="667.60" cy="101.6" r="2.65"/>
<circle cx="667.60" cy="103.2" r="2.65"/>
<circle cx="667.60" cy="104.8" r="2.65"/>
<circle cx="667.60" cy="106.4" r="2.65"/>
<circle cx="667.60" cy="108.0" r="2.65"/>
<circle cx="667.60" cy="109.7" r="2.65"/>
<circle cx="667.60" cy="111.3" r="2.65"/>
<circle cx="667.60" cy="112.9" r="2.65"/>
<circle cx="667.60" cy="114.5" r="2.65"/>
<circle cx="667.60" cy="116.1" r="2.65"/>
<circle cx="667.60" cy="117.8" r="2.65"/>
<circle cx="667.60" cy="119.4" r="2.65"/>
<circle cx="667.60" cy="121.0" r="2.65"/>
<circle cx="665.70" cy="54.0" r="2.65"/>
<circle cx="665.70" cy="55.6" r="2.65"/>
<circle cx="665.70" cy="57.2" r="2.65"/>
<circle cx="665.70" cy="58.9" r="2.65"/>
<circle cx="665.70" cy="60.5" r="2.65"/>
<circle cx="665.70" cy="62.1" r="2.65"/>
<circle cx="665.70" cy="63.7" r="2.65"/>
<circle cx="665.70" cy="65.3" r="2.65"/>
<circle cx="665.70" cy="67.0" r="2.65"/>
<circle cx="665.70" cy="68.6" r="2.65"/>
<circle cx="665.70" cy="70.2" r="2.65"/>
<circle cx="665.70" cy="71.8" r="2.65"/>
<circle cx="665.70" cy="73.4" r="2.65"/>
<circle cx="665.70" cy="75.0" r="2.65"/>
<circle cx="665.70" cy="76.7" r="2.65"/>
<circle cx="665.70" cy="78.3" r="2.65"/>
<circle cx="665.70" cy="79.9" r="2.65"/>
<circle cx="665.70" cy="81.5" r="2.65"/>
<circle cx="665.70" cy="83.1" r="2.65"/>
<circle cx="665.70" cy="84.8" r="2.65"/>
<circle cx="665.70" cy="86.4" r="2.65"/>
<circle cx="665.70" cy="88.0" r="2.65"/>
<circle cx="665.70" cy="89.6" r="2.65"/>
<circle cx="665.70" cy="91.2" r="2.65"/>
<circle cx="665.70" cy="92.9" r="2.65"/>
<circle cx="665.70" cy="94.5" r="2.65"/>
<circle cx="665.70" cy="96.1" r="2.65"/>
<circle cx="665.70" cy="97.7" r="2.65"/>
<circle cx="665.70" cy="99.3" r="2.65"/>
<circle cx="665.70" cy="101.0" r="2.65"/>
<circle cx="665.70" cy="102.6" r="2.65"/>
<circle cx="665.70" cy="104.2" r="2.65"/>
<circle cx="665.70" cy="105.8" r="2.65"/>
<circle cx="665.70" cy="107.4" r="2.65"/>
<circle cx="665.70" cy="109.0" r="2.65"/>
<circle cx="665.70" cy="110.7" r="2.65"/>
<circle cx="665.70" cy="112.3" r="2.65"/>
<circle cx="665.70" cy="113.9" r="2.65"/>
<circle cx="665.70" cy="115.5" r="2.65"/>
<circle cx="665.70" cy="117.1" r="2.65"/>
<circle cx="665.70" cy="118.8" r="2.65"/>
<circle cx="665.70" cy="120.4" r="2.65"/>
<circle cx="665.70" cy="122.0" r="2.65"/>
<circle cx="663.6" cy="125.9" r="2.65"/>
<circle cx="666.9" cy="127.5" r="2.65"/>
<circle cx="51.6" cy="228.6" r="2.65"/>
<circle cx="51.0" cy="231.0" r="2.65"/>
<circle cx="48.8" cy="234.0" r="2.65"/>
<circle cx="47.4" cy="239.4" r="2.65"/>
<circle cx="45.6" cy="236.5" r="2.65"/>
<circle cx="52.4" cy="239.5" r="2.65"/>
<circle cx="52.4" cy="242.0" r="2.65"/>
<circle cx="43.5" cy="245.2" r="2.65"/>
<circle cx="48.8" cy="245.8" r="2.65"/>
<circle cx="37.5" cy="249.4" r="2.65"/>
<circle cx="36.60" cy="251.0" r="2.65"/>
<circle cx="36.78" cy="253.8" r="2.65"/>
<circle cx="36.29" cy="256.0" r="2.65"/>
<circle cx="36.37" cy="258.7" r="2.65"/>
<circle cx="36.62" cy="261.1" r="2.65"/>
<circle cx="36.45" cy="263.7" r="2.65"/>
<circle cx="37.03" cy="266.6" r="2.65"/>
<circle cx="36.24" cy="269.3" r="2.65"/>
<circle cx="36.24" cy="271.6" r="2.65"/>
<circle cx="37.04" cy="274.4" r="2.65"/>
<circle cx="36.81" cy="276.8" r="2.65"/>
<circle cx="36.60" cy="279.4" r="2.65"/>
<circle cx="36.3" cy="284.5" r="3.0"/>
<circle cx="36.8" cy="286.3" r="2.8"/>
<circle cx="36.10" cy="300.5" r="2.65"/>
<circle cx="35.83" cy="303.2" r="2.65"/>
<circle cx="35.75" cy="305.5" r="2.65"/>
<circle cx="36.10" cy="308.3" r="2.65"/>
<circle cx="40.00" cy="252.0" r="2.65"/>
<circle cx="40.00" cy="254.3" r="2.65"/>
<circle cx="40.00" cy="256.7" r="2.65"/>
<circle cx="40.00" cy="259.0" r="2.65"/>
<circle cx="40.00" cy="261.3" r="2.65"/>
<circle cx="40.00" cy="263.7" r="2.65"/>
<circle cx="40.00" cy="266.0" r="2.65"/>
<circle cx="40.00" cy="268.3" r="2.65"/>
<circle cx="40.00" cy="270.7" r="2.65"/>
<circle cx="40.00" cy="273.0" r="2.65"/>
<circle cx="40.00" cy="275.3" r="2.65"/>
<circle cx="40.00" cy="277.7" r="2.65"/>
<circle cx="40.00" cy="280.0" r="2.65"/>
<circle cx="42.80" cy="247.5" r="2.65"/>
<circle cx="42.80" cy="250.0" r="2.65"/>
<circle cx="42.80" cy="252.4" r="2.65"/>
<circle cx="42.80" cy="254.9" r="2.65"/>
<circle cx="42.80" cy="257.4" r="2.65"/>
<circle cx="42.80" cy="259.8" r="2.65"/>
<circle cx="42.80" cy="262.3" r="2.65"/>
<circle cx="42.80" cy="264.8" r="2.65"/>
<circle cx="42.80" cy="267.2" r="2.65"/>
<circle cx="42.80" cy="269.7" r="2.65"/>
<circle cx="42.80" cy="272.2" r="2.65"/>
<circle cx="42.80" cy="274.7" r="2.65"/>
<circle cx="42.80" cy="277.1" r="2.65"/>
<circle cx="42.80" cy="279.6" r="2.65"/>
<circle cx="42.80" cy="282.1" r="2.65"/>
<circle cx="42.80" cy="284.5" r="2.65"/>
<circle cx="42.80" cy="287.0" r="2.65"/>
<circle cx="45.60" cy="244.0" r="2.65"/>
<circle cx="45.60" cy="246.2" r="2.65"/>
<circle cx="45.60" cy="248.4" r="2.65"/>
<circle cx="45.60" cy="250.6" r="2.65"/>
<circle cx="45.60" cy="252.8" r="2.65"/>
<circle cx="45.60" cy="255.0" r="2.65"/>
<circle cx="45.60" cy="257.2" r="2.65"/>
<circle cx="45.60" cy="259.5" r="2.65"/>
<circle cx="45.60" cy="261.7" r="2.65"/>
<circle cx="45.60" cy="263.9" r="2.65"/>
<circle cx="45.60" cy="266.1" r="2.65"/>
<circle cx="45.60" cy="268.3" r="2.65"/>
<circle cx="45.60" cy="270.5" r="2.65"/>
<circle cx="45.60" cy="272.7" r="2.65"/>
<circle cx="45.60" cy="274.9" r="2.65"/>
<circle cx="45.60" cy="277.1" r="2.65"/>
<circle cx="45.60" cy="279.3" r="2.65"/>
<circle cx="45.60" cy="281.5" r="2.65"/>
<circle cx="45.60" cy="283.8" r="2.65"/>
<circle cx="45.60" cy="286.0" r="2.65"/>
<circle cx="45.60" cy="288.2" r="2.65"/>
<circle cx="45.60" cy="290.4" r="2.65"/>
<circle cx="45.60" cy="292.6" r="2.65"/>
<circle cx="45.60" cy="294.8" r="2.65"/>
<circle cx="45.60" cy="297.0" r="2.65"/>
<circle cx="48.60" cy="247.0" r="2.65"/>
<circle cx="48.60" cy="249.2" r="2.65"/>
<circle cx="48.60" cy="251.3" r="2.65"/>
<circle cx="48.60" cy="253.5" r="2.65"/>
<circle cx="48.60" cy="255.7" r="2.65"/>
<circle cx="48.60" cy="257.8" r="2.65"/>
<circle cx="48.60" cy="260.0" r="2.65"/>
<circle cx="48.60" cy="262.2" r="2.65"/>
<circle cx="48.60" cy="264.3" r="2.65"/>
<circle cx="48.60" cy="266.5" r="2.65"/>
<circle cx="48.60" cy="268.7" r="2.65"/>
<circle cx="48.60" cy="270.8" r="2.65"/>
<circle cx="48.60" cy="273.0" r="2.65"/>
<circle cx="48.60" cy="275.2" r="2.65"/>
<circle cx="48.60" cy="277.3" r="2.65"/>
<circle cx="48.60" cy="279.5" r="2.65"/>
<circle cx="48.60" cy="281.7" r="2.65"/>
<circle cx="48.60" cy="283.8" r="2.65"/>
<circle cx="48.60" cy="286.0" r="2.65"/>
<circle cx="48.60" cy="288.2" r="2.65"/>
<circle cx="48.60" cy="290.3" r="2.65"/>
<circle cx="48.60" cy="292.5" r="2.65"/>
<circle cx="48.60" cy="294.7" r="2.65"/>
<circle cx="48.60" cy="296.8" r="2.65"/>
<circle cx="48.60" cy="299.0" r="2.65"/>
<circle cx="51.90" cy="244.0" r="2.65"/>
<circle cx="51.90" cy="246.2" r="2.65"/>
<circle cx="51.90" cy="248.4" r="2.65"/>
<circle cx="51.90" cy="250.6" r="2.65"/>
<circle cx="51.90" cy="252.8" r="2.65"/>
<circle cx="51.90" cy="255.0" r="2.65"/>
<circle cx="51.90" cy="257.2" r="2.65"/>
<circle cx="51.90" cy="259.5" r="2.65"/>
<circle cx="51.90" cy="261.7" r="2.65"/>
<circle cx="51.90" cy="263.9" r="2.65"/>
<circle cx="51.90" cy="266.1" r="2.65"/>
<circle cx="51.90" cy="268.3" r="2.65"/>
<circle cx="51.90" cy="270.5" r="2.65"/>
<circle cx="51.90" cy="272.7" r="2.65"/>
<circle cx="51.90" cy="274.9" r="2.65"/>
<circle cx="51.90" cy="277.1" r="2.65"/>
<circle cx="51.90" cy="279.3" r="2.65"/>
<circle cx="51.90" cy="281.5" r="2.65"/>
<circle cx="51.90" cy="283.8" r="2.65"/>
<circle cx="51.90" cy="286.0" r="2.65"/>
<circle cx="51.90" cy="288.2" r="2.65"/>
<circle cx="51.90" cy="290.4" r="2.65"/>
<circle cx="51.90" cy="292.6" r="2.65"/>
<circle cx="51.90" cy="294.8" r="2.65"/>
<circle cx="51.90" cy="297.0" r="2.65"/>
<circle cx="42.6" cy="294.6" r="2.65"/>
<circle cx="63.6" cy="233.5" r="2.65"/>
<circle cx="63.6" cy="238.0" r="2.65"/>
<circle cx="63.6" cy="243.4" r="2.65"/>
<circle cx="59.5" cy="242" r="2.65"/>
<circle cx="59" cy="248.2" r="2.65"/>
<circle cx="63.7" cy="250" r="2.65"/>
<circle cx="58.60" cy="251.0" r="2.65"/>
<circle cx="58.60" cy="253.2" r="2.65"/>
<circle cx="58.60" cy="255.4" r="2.65"/>
<circle cx="58.60" cy="257.6" r="2.65"/>
<circle cx="58.60" cy="259.8" r="2.65"/>
<circle cx="58.60" cy="262.0" r="2.65"/>
<circle cx="58.60" cy="264.1" r="2.65"/>
<circle cx="58.60" cy="266.3" r="2.65"/>
<circle cx="58.60" cy="268.5" r="2.65"/>
<circle cx="58.60" cy="270.7" r="2.65"/>
<circle cx="58.60" cy="272.9" r="2.65"/>
<circle cx="58.60" cy="275.1" r="2.65"/>
<circle cx="58.60" cy="277.3" r="2.65"/>
<circle cx="58.60" cy="279.5" r="2.65"/>
<circle cx="58.60" cy="281.7" r="2.65"/>
<circle cx="58.60" cy="283.9" r="2.65"/>
<circle cx="58.60" cy="286.0" r="2.65"/>
<circle cx="58.60" cy="288.2" r="2.65"/>
<circle cx="58.60" cy="290.4" r="2.65"/>
<circle cx="58.60" cy="292.6" r="2.65"/>
<circle cx="58.60" cy="294.8" r="2.65"/>
<circle cx="58.60" cy="297.0" r="2.65"/>
<circle cx="61.30" cy="252.0" r="2.65"/>
<circle cx="61.30" cy="254.2" r="2.65"/>
<circle cx="61.30" cy="256.4" r="2.65"/>
<circle cx="61.30" cy="258.5" r="2.65"/>
<circle cx="61.30" cy="260.7" r="2.65"/>
<circle cx="61.30" cy="262.9" r="2.65"/>
<circle cx="61.30" cy="265.1" r="2.65"/>
<circle cx="61.30" cy="267.3" r="2.65"/>
<circle cx="61.30" cy="269.5" r="2.65"/>
<circle cx="61.30" cy="271.6" r="2.65"/>
<circle cx="61.30" cy="273.8" r="2.65"/>
<circle cx="61.30" cy="276.0" r="2.65"/>
<circle cx="61.30" cy="278.2" r="2.65"/>
<circle cx="61.30" cy="280.4" r="2.65"/>
<circle cx="61.30" cy="282.5" r="2.65"/>
<circle cx="61.30" cy="284.7" r="2.65"/>
<circle cx="61.30" cy="286.9" r="2.65"/>
<circle cx="61.30" cy="289.1" r="2.65"/>
<circle cx="61.30" cy="291.3" r="2.65"/>
<circle cx="61.30" cy="293.5" r="2.65"/>
<circle cx="61.30" cy="295.6" r="2.65"/>
<circle cx="61.30" cy="297.8" r="2.65"/>
<circle cx="61.30" cy="300.0" r="2.65"/>
<circle cx="63.60" cy="252.0" r="2.65"/>
<circle cx="63.60" cy="254.4" r="2.65"/>
<circle cx="63.60" cy="256.7" r="2.65"/>
<circle cx="63.60" cy="259.1" r="2.65"/>
<circle cx="63.60" cy="261.4" r="2.65"/>
<circle cx="63.60" cy="263.8" r="2.65"/>
<circle cx="63.60" cy="266.1" r="2.65"/>
<circle cx="63.60" cy="268.5" r="2.65"/>
<circle cx="63.60" cy="270.8" r="2.65"/>
<circle cx="63.60" cy="273.2" r="2.65"/>
<circle cx="63.60" cy="275.5" r="2.65"/>
<circle cx="63.60" cy="277.9" r="2.65"/>
<circle cx="63.60" cy="280.2" r="2.65"/>
<circle cx="63.60" cy="282.6" r="2.65"/>
<circle cx="63.60" cy="284.9" r="2.65"/>
<circle cx="63.60" cy="287.3" r="2.65"/>
<circle cx="63.60" cy="289.6" r="2.65"/>
<circle cx="63.60" cy="292.0" r="2.65"/>
<circle cx="60.3" cy="302.4" r="2.65"/>
<circle cx="63.9" cy="307.9" r="2.65"/>
<circle cx="68.6" cy="254.6" r="2.65"/>
<circle cx="68.6" cy="261.8" r="2.65"/>
<circle cx="68.6" cy="268" r="2.65"/>
<circle cx="68.6" cy="273.4" r="2.65"/>
<circle cx="68.6" cy="278.75" r="2.65"/>
<circle cx="68.6" cy="284.1" r="2.65"/>
<circle cx="68.6" cy="288.6" r="2.65"/>
<circle cx="75.7" cy="247.5" r="2.65"/>
<circle cx="75.70" cy="258.0" r="2.65"/>
<circle cx="75.26" cy="261.0" r="2.65"/>
<circle cx="75.99" cy="263.7" r="2.65"/>
<circle cx="75.53" cy="267.0" r="2.65"/>
<circle cx="75.40" cy="270.0" r="2.65"/>
<circle cx="75.69" cy="272.5" r="2.65"/>
<circle cx="75.58" cy="275.7" r="2.65"/>
<circle cx="75.70" cy="278.6" r="2.65"/>
<circle cx="75.7" cy="282" r="2.65"/>
<circle cx="75.7" cy="287.7" r="2.65"/>
<circle cx="85" cy="248.4" r="2.65"/>
<circle cx="85.00" cy="256.5" r="2.65"/>
<circle cx="84.94" cy="259.3" r="2.65"/>
<circle cx="84.68" cy="262.0" r="2.65"/>
<circle cx="84.88" cy="264.6" r="2.65"/>
<circle cx="85.12" cy="267.1" r="2.65"/>
<circle cx="84.90" cy="270.0" r="2.65"/>
<circle cx="85.00" cy="272.5" r="2.65"/>
<circle cx="109.9" cy="210.7" r="2.65"/>
<circle cx="109.90" cy="226.8" r="2.65"/>
<circle cx="109.90" cy="228.4" r="2.65"/>
<circle cx="109.90" cy="230.0" r="2.65"/>
<circle cx="109.90" cy="231.6" r="2.65"/>
<circle cx="109.90" cy="233.2" r="2.65"/>
<circle cx="109.90" cy="234.8" r="2.65"/>
<circle cx="109.90" cy="236.4" r="2.65"/>
<circle cx="109.90" cy="238.0" r="2.65"/>
<circle cx="109.90" cy="239.6" r="2.65"/>
<circle cx="109.90" cy="241.2" r="2.65"/>
<circle cx="109.90" cy="242.8" r="2.65"/>
<circle cx="109.90" cy="244.4" r="2.65"/>
<circle cx="109.90" cy="246.0" r="2.65"/>
<circle cx="109.90" cy="247.6" r="2.65"/>
<circle cx="109.90" cy="249.2" r="2.65"/>
<circle cx="109.90" cy="250.8" r="2.65"/>
<circle cx="109.90" cy="252.4" r="2.65"/>
<circle cx="109.90" cy="254.0" r="2.65"/>
<circle cx="109.90" cy="255.6" r="2.65"/>
<circle cx="109.90" cy="257.2" r="2.65"/>
<circle cx="109.90" cy="258.8" r="2.65"/>
<circle cx="109.90" cy="260.4" r="2.65"/>
<circle cx="109.90" cy="262.0" r="2.65"/>
<circle cx="109.90" cy="263.5" r="2.65"/>
<circle cx="109.90" cy="265.1" r="2.65"/>
<circle cx="109.90" cy="266.7" r="2.65"/>
<circle cx="109.90" cy="268.3" r="2.65"/>
<circle cx="109.90" cy="269.9" r="2.65"/>
<circle cx="109.90" cy="271.5" r="2.65"/>
<circle cx="109.90" cy="273.1" r="2.65"/>
<circle cx="109.90" cy="274.7" r="2.65"/>
<circle cx="109.90" cy="276.3" r="2.65"/>
<circle cx="109.90" cy="277.9" r="2.65"/>
<circle cx="109.90" cy="279.5" r="2.65"/>
<circle cx="109.90" cy="281.1" r="2.65"/>
<circle cx="109.90" cy="282.7" r="2.65"/>
<circle cx="109.90" cy="284.3" r="2.65"/>
<circle cx="109.90" cy="285.9" r="2.65"/>
<circle cx="109.90" cy="287.5" r="2.65"/>
<circle cx="109.90" cy="289.1" r="2.65"/>
<circle cx="109.90" cy="290.7" r="2.65"/>
<circle cx="109.90" cy="292.3" r="2.65"/>
<circle cx="109.90" cy="293.9" r="2.65"/>
<circle cx="109.90" cy="295.5" r="2.65"/>
<circle cx="109.90" cy="297.1" r="2.65"/>
<circle cx="109.90" cy="298.7" r="2.65"/>
<circle cx="109.9" cy="302.1" r="2.65"/>
<circle cx="198.70" cy="227.0" r="2.65"/>
<circle cx="198.70" cy="228.6" r="2.65"/>
<circle cx="198.70" cy="230.2" r="2.65"/>
<circle cx="198.70" cy="231.8" r="2.65"/>
<circle cx="198.70" cy="233.5" r="2.65"/>
<circle cx="198.70" cy="235.1" r="2.65"/>
<circle cx="198.70" cy="236.7" r="2.65"/>
<circle cx="198.70" cy="238.3" r="2.65"/>
<circle cx="198.70" cy="239.9" r="2.65"/>
<circle cx="198.70" cy="241.5" r="2.65"/>
<circle cx="198.70" cy="243.2" r="2.65"/>
<circle cx="198.70" cy="244.8" r="2.65"/>
<circle cx="198.70" cy="246.4" r="2.65"/>
<circle cx="198.70" cy="248.0" r="2.65"/>
<circle cx="198.70" cy="249.6" r="2.65"/>
<circle cx="198.70" cy="251.2" r="2.65"/>
<circle cx="198.70" cy="252.9" r="2.65"/>
<circle cx="198.70" cy="254.5" r="2.65"/>
<circle cx="198.70" cy="256.1" r="2.65"/>
<circle cx="198.70" cy="257.7" r="2.65"/>
<circle cx="198.70" cy="259.3" r="2.65"/>
<circle cx="198.70" cy="260.9" r="2.65"/>
<circle cx="198.70" cy="262.6" r="2.65"/>
<circle cx="198.70" cy="264.2" r="2.65"/>
<circle cx="198.70" cy="265.8" r="2.65"/>
<circle cx="198.70" cy="267.4" r="2.65"/>
<circle cx="198.70" cy="269.0" r="2.65"/>
<circle cx="198.70" cy="270.6" r="2.65"/>
<circle cx="198.70" cy="272.3" r="2.65"/>
<circle cx="198.70" cy="273.9" r="2.65"/>
<circle cx="198.70" cy="275.5" r="2.65"/>
<circle cx="198.70" cy="277.1" r="2.65"/>
<circle cx="198.70" cy="278.7" r="2.65"/>
<circle cx="198.70" cy="280.3" r="2.65"/>
<circle cx="198.70" cy="282.0" r="2.65"/>
<circle cx="198.70" cy="283.6" r="2.65"/>
<circle cx="198.70" cy="285.2" r="2.65"/>
<circle cx="198.70" cy="286.8" r="2.65"/>
<circle cx="198.70" cy="288.4" r="2.65"/>
<circle cx="198.70" cy="290.0" r="2.65"/>
<circle cx="198.70" cy="291.7" r="2.65"/>
<circle cx="198.70" cy="293.3" r="2.65"/>
<circle cx="198.70" cy="294.9" r="2.65"/>
<circle cx="198.70" cy="296.5" r="2.65"/>
<circle cx="273.5" cy="243.7" r="2.65"/>
<circle cx="271.6" cy="249.4" r="2.65"/>
<circle cx="279.2" cy="249.9" r="2.65"/>
<circle cx="270.30" cy="255.0" r="2.65"/>
<circle cx="270.05" cy="257.4" r="2.65"/>
<circle cx="270.49" cy="260.3" r="2.65"/>
<circle cx="269.98" cy="263.1" r="2.65"/>
<circle cx="270.09" cy="265.5" r="2.65"/>
<circle cx="269.99" cy="268.1" r="2.65"/>
<circle cx="270.61" cy="270.8" r="2.65"/>
<circle cx="270.00" cy="273.5" r="2.65"/>
<circle cx="270.14" cy="276.4" r="2.65"/>
<circle cx="269.95" cy="279.1" r="2.65"/>
<circle cx="269.90" cy="281.7" r="2.65"/>
<circle cx="270.45" cy="284.0" r="2.65"/>
<circle cx="270.28" cy="286.6" r="2.65"/>
<circle cx="270.08" cy="289.3" r="2.65"/>
<circle cx="270.18" cy="292.3" r="2.65"/>
<circle cx="270.75" cy="294.9" r="2.65"/>
<circle cx="269.94" cy="297.2" r="2.65"/>
<circle cx="270.30" cy="300.0" r="2.65"/>
<circle cx="273.10" cy="252.5" r="2.65"/>
<circle cx="273.46" cy="254.8" r="2.65"/>
<circle cx="273.30" cy="257.6" r="2.65"/>
<circle cx="273.53" cy="260.0" r="2.65"/>
<circle cx="273.38" cy="262.8" r="2.65"/>
<circle cx="272.78" cy="265.2" r="2.65"/>
<circle cx="273.40" cy="268.0" r="2.65"/>
<circle cx="272.82" cy="270.6" r="2.65"/>
<circle cx="273.47" cy="273.0" r="2.65"/>
<circle cx="273.16" cy="275.6" r="2.65"/>
<circle cx="272.81" cy="278.5" r="2.65"/>
<circle cx="273.29" cy="280.8" r="2.65"/>
<circle cx="272.72" cy="283.3" r="2.65"/>
<circle cx="273.20" cy="286.1" r="2.65"/>
<circle cx="272.90" cy="288.5" r="2.65"/>
<circle cx="273.20" cy="291.4" r="2.65"/>
<circle cx="273.38" cy="293.9" r="2.65"/>
<circle cx="272.83" cy="296.2" r="2.65"/>
<circle cx="273.31" cy="299.0" r="2.65"/>
<circle cx="273.30" cy="301.4" r="2.65"/>
<circle cx="273.38" cy="304.1" r="2.65"/>
<circle cx="273.10" cy="306.8" r="2.65"/>
<circle cx="279.60" cy="254.0" r="2.65"/>
<circle cx="279.91" cy="257.0" r="2.65"/>
<circle cx="279.59" cy="259.3" r="2.65"/>
<circle cx="279.97" cy="262.3" r="2.65"/>
<circle cx="279.93" cy="265.0" r="2.65"/>
<circle cx="279.32" cy="268.1" r="2.65"/>
<circle cx="279.48" cy="270.5" r="2.65"/>
<circle cx="279.48" cy="273.5" r="2.65"/>
<circle cx="279.15" cy="276.2" r="2.65"/>
<circle cx="279.55" cy="279.0" r="2.65"/>
<circle cx="279.26" cy="281.9" r="2.65"/>
<circle cx="279.88" cy="284.8" r="2.65"/>
<circle cx="279.44" cy="287.5" r="2.65"/>
<circle cx="279.49" cy="290.3" r="2.65"/>
<circle cx="279.60" cy="292.9" r="2.65"/>
<circle cx="279.6" cy="301.1" r="2.65"/>
<circle cx="286.4" cy="245.1" r="2.65"/>
<circle cx="286.4" cy="248.5" r="2.65"/>
<circle cx="286.4" cy="251.3" r="2.65"/>
<circle cx="286.50" cy="254.5" r="2.65"/>
<circle cx="286.11" cy="257.4" r="2.65"/>
<circle cx="286.91" cy="259.9" r="2.65"/>
<circle cx="286.51" cy="262.6" r="2.65"/>
<circle cx="286.53" cy="265.0" r="2.65"/>
<circle cx="286.92" cy="267.8" r="2.65"/>
<circle cx="286.21" cy="270.4" r="2.65"/>
<circle cx="286.28" cy="273.4" r="2.65"/>
<circle cx="286.08" cy="275.7" r="2.65"/>
<circle cx="286.68" cy="278.5" r="2.65"/>
<circle cx="286.07" cy="281.4" r="2.65"/>
<circle cx="286.50" cy="284.0" r="2.65"/>
<circle cx="286.3" cy="288.1" r="2.65"/>
<circle cx="285.4" cy="293.9" r="2.65"/>
<circle cx="286.8" cy="298.8" r="2.65"/>
<circle cx="286.3" cy="302.9" r="2.65"/>
<circle cx="295.2" cy="229.4" r="2.65"/>
<circle cx="293.2" cy="233.4" r="2.65"/>
<circle cx="293.9" cy="238.8" r="2.65"/>
<circle cx="299.9" cy="236.8" r="2.65"/>
<circle cx="300.6" cy="239.4" r="2.65"/>
<circle cx="295.2" cy="242.8" r="2.65"/>
<circle cx="294.5" cy="239.9" r="2.65"/>
<circle cx="299.2" cy="239" r="2.65"/>
<circle cx="292.6" cy="247" r="2.65"/>
<circle cx="296.4" cy="248.5" r="2.65"/>
<circle cx="299.7" cy="250.9" r="2.65"/>
<circle cx="292.60" cy="253.0" r="2.65"/>
<circle cx="292.60" cy="255.4" r="2.65"/>
<circle cx="292.60" cy="257.9" r="2.65"/>
<circle cx="292.60" cy="260.3" r="2.65"/>
<circle cx="292.60" cy="262.8" r="2.65"/>
<circle cx="292.60" cy="265.2" r="2.65"/>
<circle cx="292.60" cy="267.6" r="2.65"/>
<circle cx="292.60" cy="270.1" r="2.65"/>
<circle cx="292.60" cy="272.5" r="2.65"/>
<circle cx="292.60" cy="274.9" r="2.65"/>
<circle cx="292.60" cy="277.4" r="2.65"/>
<circle cx="292.60" cy="279.8" r="2.65"/>
<circle cx="292.60" cy="282.2" r="2.65"/>
<circle cx="292.60" cy="284.7" r="2.65"/>
<circle cx="292.60" cy="287.1" r="2.65"/>
<circle cx="292.60" cy="289.6" r="2.65"/>
<circle cx="292.60" cy="292.0" r="2.65"/>
<circle cx="295.80" cy="252.0" r="2.65"/>
<circle cx="295.80" cy="254.3" r="2.65"/>
<circle cx="295.80" cy="256.7" r="2.65"/>
<circle cx="295.80" cy="259.0" r="2.65"/>
<circle cx="295.80" cy="261.4" r="2.65"/>
<circle cx="295.80" cy="263.7" r="2.65"/>
<circle cx="295.80" cy="266.1" r="2.65"/>
<circle cx="295.80" cy="268.4" r="2.65"/>
<circle cx="295.80" cy="270.7" r="2.65"/>
<circle cx="295.80" cy="273.1" r="2.65"/>
<circle cx="295.80" cy="275.4" r="2.65"/>
<circle cx="295.80" cy="277.8" r="2.65"/>
<circle cx="295.80" cy="280.1" r="2.65"/>
<circle cx="295.80" cy="282.4" r="2.65"/>
<circle cx="295.80" cy="284.8" r="2.65"/>
<circle cx="295.80" cy="287.1" r="2.65"/>
<circle cx="295.80" cy="289.5" r="2.65"/>
<circle cx="295.80" cy="291.8" r="2.65"/>
<circle cx="295.80" cy="294.2" r="2.65"/>
<circle cx="295.80" cy="296.5" r="2.65"/>
<circle cx="299.10" cy="253.0" r="2.65"/>
<circle cx="299.10" cy="255.4" r="2.65"/>
<circle cx="299.10" cy="257.9" r="2.65"/>
<circle cx="299.10" cy="260.3" r="2.65"/>
<circle cx="299.10" cy="262.8" r="2.65"/>
<circle cx="299.10" cy="265.2" r="2.65"/>
<circle cx="299.10" cy="267.6" r="2.65"/>
<circle cx="299.10" cy="270.1" r="2.65"/>
<circle cx="299.10" cy="272.5" r="2.65"/>
<circle cx="299.10" cy="274.9" r="2.65"/>
<circle cx="299.10" cy="277.4" r="2.65"/>
<circle cx="299.10" cy="279.8" r="2.65"/>
<circle cx="299.10" cy="282.2" r="2.65"/>
<circle cx="299.10" cy="284.7" r="2.65"/>
<circle cx="299.10" cy="287.1" r="2.65"/>
<circle cx="299.10" cy="289.6" r="2.65"/>
<circle cx="299.10" cy="292.0" r="2.65"/>
<circle cx="295.2" cy="297.5" r="2.65"/>
<circle cx="293" cy="307.8" r="2.65"/>
<circle cx="306.6" cy="226.2" r="2.65"/>
<circle cx="306.60" cy="233.0" r="2.65"/>
<circle cx="306.60" cy="235.0" r="2.65"/>
<circle cx="306.60" cy="237.0" r="2.65"/>
<circle cx="306.60" cy="239.0" r="2.65"/>
<circle cx="306.60" cy="241.0" r="2.65"/>
<circle cx="306.60" cy="243.0" r="2.65"/>
<circle cx="306.60" cy="245.1" r="2.65"/>
<circle cx="306.60" cy="247.1" r="2.65"/>
<circle cx="306.60" cy="249.1" r="2.65"/>
<circle cx="306.60" cy="251.1" r="2.65"/>
<circle cx="306.60" cy="253.1" r="2.65"/>
<circle cx="306.60" cy="255.1" r="2.65"/>
<circle cx="306.60" cy="257.1" r="2.65"/>
<circle cx="306.60" cy="259.1" r="2.65"/>
<circle cx="306.60" cy="261.1" r="2.65"/>
<circle cx="306.60" cy="263.1" r="2.65"/>
<circle cx="306.60" cy="265.1" r="2.65"/>
<circle cx="306.60" cy="267.2" r="2.65"/>
<circle cx="306.60" cy="269.2" r="2.65"/>
<circle cx="306.60" cy="271.2" r="2.65"/>
<circle cx="306.60" cy="273.2" r="2.65"/>
<circle cx="306.60" cy="275.2" r="2.65"/>
<circle cx="306.60" cy="277.2" r="2.65"/>
<circle cx="306.60" cy="279.2" r="2.65"/>
<circle cx="306.60" cy="281.2" r="2.65"/>
<circle cx="306.60" cy="283.2" r="2.65"/>
<circle cx="306.60" cy="285.2" r="2.65"/>
<circle cx="306.60" cy="287.2" r="2.65"/>
<circle cx="306.60" cy="289.3" r="2.65"/>
<circle cx="306.60" cy="291.3" r="2.65"/>
<circle cx="306.60" cy="293.3" r="2.65"/>
<circle cx="306.60" cy="295.3" r="2.65"/>
<circle cx="306.60" cy="297.3" r="2.65"/>
<circle cx="306.60" cy="299.3" r="2.65"/>
<circle cx="322" cy="242.5" r="2.65"/>
<circle cx="322" cy="249" r="2.65"/>
<circle cx="322.00" cy="257.0" r="2.65"/>
<circle cx="322.00" cy="259.2" r="2.65"/>
<circle cx="322.00" cy="261.4" r="2.65"/>
<circle cx="322.00" cy="263.6" r="2.65"/>
<circle cx="322.00" cy="265.8" r="2.65"/>
<circle cx="322.00" cy="268.1" r="2.65"/>
<circle cx="322.00" cy="270.3" r="2.65"/>
<circle cx="322.00" cy="272.5" r="2.65"/>
<circle cx="322.00" cy="274.7" r="2.65"/>
<circle cx="322.00" cy="276.9" r="2.65"/>
<circle cx="322.00" cy="279.1" r="2.65"/>
<circle cx="322.00" cy="281.3" r="2.65"/>
<circle cx="322.00" cy="283.5" r="2.65"/>
<circle cx="322.00" cy="285.7" r="2.65"/>
<circle cx="322.00" cy="287.9" r="2.65"/>
<circle cx="322.00" cy="290.2" r="2.65"/>
<circle cx="322.00" cy="292.4" r="2.65"/>
<circle cx="322.00" cy="294.6" r="2.65"/>
<circle cx="322.00" cy="296.8" r="2.65"/>
<circle cx="322.00" cy="299.0" r="2.65"/>
<circle cx="354.9" cy="233.8" r="2.65"/>
<circle cx="354.9" cy="247.6" r="2.65"/>
<circle cx="354.90" cy="252.5" r="2.65"/>
<circle cx="354.90" cy="254.5" r="2.65"/>
<circle cx="354.90" cy="256.5" r="2.65"/>
<circle cx="354.90" cy="258.5" r="2.65"/>
<circle cx="354.90" cy="260.5" r="2.65"/>
<circle cx="354.90" cy="262.5" r="2.65"/>
<circle cx="354.90" cy="264.4" r="2.65"/>
<circle cx="354.90" cy="266.4" r="2.65"/>
<circle cx="354.90" cy="268.4" r="2.65"/>
<circle cx="354.90" cy="270.4" r="2.65"/>
<circle cx="354.90" cy="272.4" r="2.65"/>
<circle cx="354.90" cy="274.4" r="2.65"/>
<circle cx="354.90" cy="276.4" r="2.65"/>
<circle cx="354.90" cy="278.4" r="2.65"/>
<circle cx="354.90" cy="280.4" r="2.65"/>
<circle cx="354.90" cy="282.4" r="2.65"/>
<circle cx="354.90" cy="284.4" r="2.65"/>
<circle cx="354.90" cy="286.4" r="2.65"/>
<circle cx="354.90" cy="288.3" r="2.65"/>
<circle cx="354.90" cy="290.3" r="2.65"/>
<circle cx="354.90" cy="292.3" r="2.65"/>
<circle cx="354.90" cy="294.3" r="2.65"/>
<circle cx="354.90" cy="296.3" r="2.65"/>
<circle cx="354.90" cy="298.3" r="2.65"/>
<circle cx="429.3" cy="212.1" r="2.65"/>
<circle cx="429.3" cy="227.1" r="2.65"/>
<circle cx="429.30" cy="230.5" r="2.65"/>
<circle cx="429.30" cy="232.3" r="2.65"/>
<circle cx="429.30" cy="234.1" r="2.65"/>
<circle cx="429.30" cy="235.9" r="2.65"/>
<circle cx="429.30" cy="237.7" r="2.65"/>
<circle cx="429.30" cy="239.6" r="2.65"/>
<circle cx="429.30" cy="241.4" r="2.65"/>
<circle cx="429.30" cy="243.2" r="2.65"/>
<circle cx="429.30" cy="245.0" r="2.65"/>
<circle cx="429.30" cy="246.8" r="2.65"/>
<circle cx="429.30" cy="248.6" r="2.65"/>
<circle cx="429.30" cy="250.4" r="2.65"/>
<circle cx="429.30" cy="252.2" r="2.65"/>
<circle cx="429.30" cy="254.0" r="2.65"/>
<circle cx="429.30" cy="255.9" r="2.65"/>
<circle cx="429.30" cy="257.7" r="2.65"/>
<circle cx="429.30" cy="259.5" r="2.65"/>
<circle cx="429.30" cy="261.3" r="2.65"/>
<circle cx="429.30" cy="263.1" r="2.65"/>
<circle cx="429.30" cy="264.9" r="2.65"/>
<circle cx="429.30" cy="266.7" r="2.65"/>
<circle cx="429.30" cy="268.5" r="2.65"/>
<circle cx="429.30" cy="270.3" r="2.65"/>
<circle cx="429.30" cy="272.1" r="2.65"/>
<circle cx="429.30" cy="274.0" r="2.65"/>
<circle cx="429.30" cy="275.8" r="2.65"/>
<circle cx="429.30" cy="277.6" r="2.65"/>
<circle cx="429.30" cy="279.4" r="2.65"/>
<circle cx="429.30" cy="281.2" r="2.65"/>
<circle cx="429.30" cy="283.0" r="2.65"/>
<circle cx="429.30" cy="284.8" r="2.65"/>
<circle cx="429.30" cy="286.6" r="2.65"/>
<circle cx="429.30" cy="288.4" r="2.65"/>
<circle cx="429.30" cy="290.3" r="2.65"/>
<circle cx="429.30" cy="292.1" r="2.65"/>
<circle cx="429.30" cy="293.9" r="2.65"/>
<circle cx="429.30" cy="295.7" r="2.65"/>
<circle cx="429.30" cy="297.5" r="2.65"/>
<circle cx="429.6" cy="301.4" r="2.65"/>
<circle cx="507.6" cy="249.6" r="2.65"/>
<circle cx="507.6" cy="256.3" r="2.65"/>
<circle cx="507.60" cy="260.7" r="2.65"/>
<circle cx="507.66" cy="263.3" r="2.65"/>
<circle cx="507.63" cy="266.3" r="2.65"/>
<circle cx="507.51" cy="269.0" r="2.65"/>
<circle cx="507.26" cy="272.2" r="2.65"/>
<circle cx="507.47" cy="274.7" r="2.65"/>
<circle cx="507.60" cy="277.7" r="2.65"/>
<circle cx="507.60" cy="283.9" r="2.65"/>
<circle cx="507.60" cy="286.6" r="2.65"/>
<circle cx="507.60" cy="300.9" r="2.65"/>
<circle cx="507.32" cy="303.4" r="2.65"/>
<circle cx="507.36" cy="306.0" r="2.65"/>
<circle cx="507.60" cy="308.9" r="2.65"/>
<circle cx="557.90" cy="244.8" r="2.65"/>
<circle cx="558.00" cy="247.2" r="2.65"/>
<circle cx="557.69" cy="249.7" r="2.65"/>
<circle cx="557.66" cy="252.0" r="2.65"/>
<circle cx="558.10" cy="254.3" r="2.65"/>
<circle cx="557.87" cy="257.0" r="2.65"/>
<circle cx="558.08" cy="259.2" r="2.65"/>
<circle cx="557.81" cy="261.8" r="2.65"/>
<circle cx="557.83" cy="264.3" r="2.65"/>
<circle cx="557.72" cy="266.7" r="2.65"/>
<circle cx="557.90" cy="268.9" r="2.65"/>
<circle cx="557.87" cy="271.3" r="2.65"/>
<circle cx="558.02" cy="273.7" r="2.65"/>
<circle cx="558.14" cy="276.3" r="2.65"/>
<circle cx="557.82" cy="278.6" r="2.65"/>
<circle cx="557.96" cy="281.0" r="2.65"/>
<circle cx="558.12" cy="283.4" r="2.65"/>
<circle cx="557.91" cy="285.9" r="2.65"/>
<circle cx="557.76" cy="288.4" r="2.65"/>
<circle cx="557.83" cy="290.8" r="2.65"/>
<circle cx="557.94" cy="293.1" r="2.65"/>
<circle cx="557.83" cy="295.4" r="2.65"/>
<circle cx="557.90" cy="298.0" r="2.65"/>
<circle cx="608.50" cy="231.0" r="2.65"/>
<circle cx="608.50" cy="232.8" r="2.65"/>
<circle cx="608.50" cy="234.6" r="2.65"/>
<circle cx="608.50" cy="236.4" r="2.65"/>
<circle cx="608.50" cy="238.2" r="2.65"/>
<circle cx="608.50" cy="240.0" r="2.65"/>
<circle cx="608.50" cy="241.8" r="2.65"/>
<circle cx="608.50" cy="243.7" r="2.65"/>
<circle cx="608.50" cy="245.5" r="2.65"/>
<circle cx="608.50" cy="247.3" r="2.65"/>
<circle cx="608.50" cy="249.1" r="2.65"/>
<circle cx="608.50" cy="250.9" r="2.65"/>
<circle cx="608.50" cy="252.7" r="2.65"/>
<circle cx="608.50" cy="254.5" r="2.65"/>
<circle cx="608.50" cy="256.3" r="2.65"/>
<circle cx="608.50" cy="258.1" r="2.65"/>
<circle cx="608.50" cy="259.9" r="2.65"/>
<circle cx="608.50" cy="261.7" r="2.65"/>
<circle cx="608.50" cy="263.5" r="2.65"/>
<circle cx="608.50" cy="265.3" r="2.65"/>
<circle cx="608.50" cy="267.2" r="2.65"/>
<circle cx="608.50" cy="269.0" r="2.65"/>
<circle cx="608.50" cy="270.8" r="2.65"/>
<circle cx="608.50" cy="272.6" r="2.65"/>
<circle cx="608.50" cy="274.4" r="2.65"/>
<circle cx="608.50" cy="276.2" r="2.65"/>
<circle cx="608.50" cy="278.0" r="2.65"/>
<circle cx="608.50" cy="279.8" r="2.65"/>
<circle cx="608.50" cy="281.6" r="2.65"/>
<circle cx="608.50" cy="283.4" r="2.65"/>
<circle cx="608.50" cy="285.2" r="2.65"/>
<circle cx="608.50" cy="287.0" r="2.65"/>
<circle cx="608.50" cy="288.8" r="2.65"/>
<circle cx="608.50" cy="290.7" r="2.65"/>
<circle cx="608.50" cy="292.5" r="2.65"/>
<circle cx="608.50" cy="294.3" r="2.65"/>
<circle cx="608.50" cy="296.1" r="2.65"/>
<circle cx="608.50" cy="297.9" r="2.65"/>
<circle cx="608.50" cy="299.7" r="2.65"/>
<circle cx="608.50" cy="301.5" r="2.65"/>
<circle cx="608.5" cy="307.9" r="2.65"/>
<circle cx="658.5" cy="212.1" r="2.65"/>
<circle cx="658.50" cy="225.9" r="2.65"/>
<circle cx="658.50" cy="227.7" r="2.65"/>
<circle cx="658.50" cy="229.5" r="2.65"/>
<circle cx="658.50" cy="231.4" r="2.65"/>
<circle cx="658.50" cy="233.2" r="2.65"/>
<circle cx="658.50" cy="235.0" r="2.65"/>
<circle cx="658.50" cy="236.8" r="2.65"/>
<circle cx="658.50" cy="238.6" r="2.65"/>
<circle cx="658.50" cy="240.5" r="2.65"/>
<circle cx="658.50" cy="242.3" r="2.65"/>
<circle cx="658.50" cy="244.1" r="2.65"/>
<circle cx="658.50" cy="245.9" r="2.65"/>
<circle cx="658.50" cy="247.7" r="2.65"/>
<circle cx="658.50" cy="249.5" r="2.65"/>
<circle cx="658.50" cy="251.4" r="2.65"/>
<circle cx="658.50" cy="253.2" r="2.65"/>
<circle cx="658.50" cy="255.0" r="2.65"/>
<circle cx="658.50" cy="256.8" r="2.65"/>
<circle cx="658.50" cy="258.6" r="2.65"/>
<circle cx="658.50" cy="260.5" r="2.65"/>
<circle cx="658.50" cy="262.3" r="2.65"/>
<circle cx="658.50" cy="264.1" r="2.65"/>
<circle cx="658.50" cy="265.9" r="2.65"/>
<circle cx="658.50" cy="267.7" r="2.65"/>
<circle cx="658.50" cy="269.6" r="2.65"/>
<circle cx="658.50" cy="271.4" r="2.65"/>
<circle cx="658.50" cy="273.2" r="2.65"/>
<circle cx="658.50" cy="275.0" r="2.65"/>
<circle cx="658.50" cy="276.8" r="2.65"/>
<circle cx="658.50" cy="278.7" r="2.65"/>
<circle cx="658.50" cy="280.5" r="2.65"/>
<circle cx="658.50" cy="282.3" r="2.65"/>
<circle cx="658.50" cy="284.1" r="2.65"/>
<circle cx="658.50" cy="285.9" r="2.65"/>
<circle cx="658.50" cy="287.7" r="2.65"/>
<circle cx="658.50" cy="289.6" r="2.65"/>
<circle cx="658.50" cy="291.4" r="2.65"/>
<circle cx="658.50" cy="293.2" r="2.65"/>
<circle cx="658.50" cy="295.0" r="2.65"/>
<circle cx="658.50" cy="296.8" r="2.65"/>
<circle cx="658.50" cy="298.7" r="2.65"/>
<circle cx="658.50" cy="300.5" r="2.65"/>
<circle cx="658.50" cy="302.3" r="2.65"/>
</g>
<g fill="#fff">
<ellipse cx="41.0" cy="263.8" rx="1.5" ry="0.9"/>
<ellipse cx="41.2" cy="275.8" rx="1.3" ry="0.9"/>
<ellipse cx="46.0" cy="278.5" rx="0.8" ry="0.7"/>
<ellipse cx="39.8" cy="291.5" rx="1.6" ry="2.2"/>
</g>
<g stroke="#2a2a2a" stroke-width="1.15" stroke-dasharray="2.1 0.9">
<line x1="18.4" y1="101.8" x2="210.2" y2="86.1"/>
<line x1="253.9" y1="95.4" x2="449.0" y2="90.2"/>
<line x1="493.6" y1="99.2" x2="678.8" y2="89.4"/>
<line x1="18.4" y1="262.4" x2="210.8" y2="252.1"/>
<line x1="255" y1="263.9" x2="443.8" y2="253.7"/>
<line x1="488.4" y1="268.2" x2="679.4" y2="253.0"/>
</g>
<g>
<text x="0" y="0" class="ser" text-anchor="middle" transform="translate(106.1,9.4) scale(0.247,0.252)">Spearman’s rho = 0.094**</text>
<text x="0" y="0" class="ser" text-anchor="middle" transform="translate(341.3,9.4) scale(0.247,0.252)">Spearman’s rho = 0.062*</text>
<text x="0" y="0" class="ser" text-anchor="middle" transform="translate(575.8,9.4) scale(0.247,0.252)">Spearman’s rho = 0.091**</text>
<text x="0" y="0" class="ser" text-anchor="middle" transform="translate(105.5,184.0) scale(0.247,0.252)">Spearman’s rho = 0.094**</text>
<text x="0" y="0" class="san" text-anchor="middle" transform="translate(340.5,184.4) scale(0.25,0.25)">Spearman’s rho = 0.082**</text>
<text x="0" y="0" class="san" text-anchor="middle" transform="translate(575.8,184.4) scale(0.25,0.25)">Spearman’s rho = 0.091**</text>
<text x="0" y="0" class="ser" text-anchor="middle" transform="translate(113.9,157.4) scale(0.256,0.266)">GDP</text>
<text x="0" y="0" class="ser" text-anchor="middle" transform="translate(349.6,157.4) scale(0.26,0.266)">HDI</text>
<text x="0" y="0" class="ser" text-anchor="middle" transform="translate(584.4,157.5) scale(0.256,0.266)">Urban %</text>
<text x="0" y="0" class="ser" text-anchor="middle" transform="translate(113.4,333.5) scale(0.247,0.252)">Population Density</text>
<text x="0" y="0" class="ser" text-anchor="middle" transform="translate(348.5,333.1) scale(0.247,0.252)">High Education Institutions</text>
<text x="0" y="0" class="ser" text-anchor="middle" transform="translate(583.8,333.1) scale(0.247,0.252)">Internet Speed</text>
<text x="0" y="0" class="yl" transform="translate(10.0,102.9) rotate(-90) scale(0.247,0.252)">Prestige</text>
<text x="0" y="0" class="yl" transform="translate(244.7,101.7) rotate(-90) scale(0.247,0.252)">Prestige</text>
<text x="0" y="0" class="yl" transform="translate(479.8,101.3) rotate(-90) scale(0.247,0.252)">Prestige</text>
<text x="0" y="0" class="yl" transform="translate(8.4,277.3) rotate(-90) scale(0.247,0.252)">Prestige</text>
<text x="0" y="0" class="yl" transform="translate(243.6,292.9) rotate(-90) scale(0.247,0.252)">Título do Eixo</text>
<text x="0" y="0" class="yl" transform="translate(478.6,277.4) rotate(-90) scale(0.247,0.252)">Prestige</text>
</g>
</g>
</svg></div>
</body></html>
